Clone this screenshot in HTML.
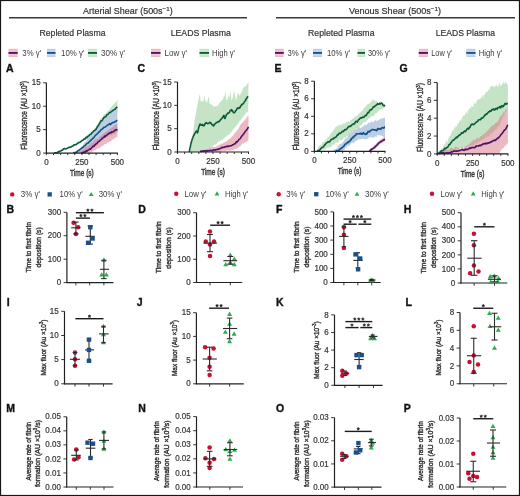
<!DOCTYPE html>
<html><head><meta charset="utf-8"><style>
html,body{margin:0;padding:0;background:#fff;}
svg{display:block;font-family:"Liberation Sans", sans-serif;will-change:transform;}
text{stroke:#333;stroke-width:0.2px;paint-order:stroke;}
text.b{stroke:#111;stroke-width:0.35px;}
text.l{stroke:none;}
text.r{stroke:#333;stroke-width:0.4px;}
</style></head><body>
<svg width="520" height="496" viewBox="0 0 520 496" font-family="Liberation Sans, sans-serif">
<rect width="520" height="496" fill="#fff"/>
<g fill="#333">
<rect x="0.5" y="0.5" width="519" height="495" fill="none" stroke="#161616" stroke-width="1.2"/>
<text x="83.00" y="14.4" font-size="8.9" textLength="89.70" lengthAdjust="spacingAndGlyphs">Arterial Shear (500s<tspan font-size="6.2" dy="-3.3">−1</tspan><tspan dy="3.3">)</tspan></text>
<text x="348.90" y="14.4" font-size="8.9" textLength="92.20" lengthAdjust="spacingAndGlyphs">Venous Shear (500s<tspan font-size="6.2" dy="-3.3">−1</tspan><tspan dy="3.3">)</tspan></text>
<line x1="9.00" y1="17.70" x2="247.00" y2="17.70" stroke="#3a3a3a" stroke-width="1.5"/>
<line x1="276.00" y1="17.70" x2="515.00" y2="17.70" stroke="#3a3a3a" stroke-width="1.5"/>
<text x="39.50" y="36.20" font-size="9" fill="#333" textLength="66.00" lengthAdjust="spacingAndGlyphs" >Repleted Plasma</text>
<text x="170.70" y="36.20" font-size="9" fill="#333" textLength="60.10" lengthAdjust="spacingAndGlyphs" >LEADS Plasma</text>
<text x="308.00" y="36.20" font-size="9" fill="#333" textLength="66.50" lengthAdjust="spacingAndGlyphs" >Repleted Plasma</text>
<text x="435.75" y="36.20" font-size="9" fill="#333" textLength="59.25" lengthAdjust="spacingAndGlyphs" >LEADS Plasma</text>
<rect x="8.50" y="48.8" width="9.20" height="8.20" fill="#efb6c3"/>
<rect x="8.50" y="50.6" width="9.20" height="1.2" fill="#fff" opacity="0.35"/>
<rect x="8.50" y="54.3" width="9.20" height="1.2" fill="#fff" opacity="0.35"/>
<line x1="8.50" y1="52.90" x2="17.70" y2="52.90" stroke="#4d1463" stroke-width="1.9"/>
<text x="22.30" y="55.60" font-size="8.2" fill="#3c3c3c" textLength="18.90" lengthAdjust="spacingAndGlyphs" class="l">3% γ'</text>
<rect x="47.00" y="48.8" width="8.50" height="8.20" fill="#bccee2"/>
<rect x="47.00" y="50.6" width="8.50" height="1.2" fill="#fff" opacity="0.35"/>
<rect x="47.00" y="54.3" width="8.50" height="1.2" fill="#fff" opacity="0.35"/>
<line x1="47.00" y1="52.90" x2="55.50" y2="52.90" stroke="#17528c" stroke-width="1.9"/>
<text x="61.00" y="55.60" font-size="8.2" fill="#3c3c3c" textLength="23.50" lengthAdjust="spacingAndGlyphs" class="l">10% γ'</text>
<rect x="88.00" y="48.8" width="9.00" height="8.20" fill="#c4e4c5"/>
<rect x="88.00" y="50.6" width="9.00" height="1.2" fill="#fff" opacity="0.35"/>
<rect x="88.00" y="54.3" width="9.00" height="1.2" fill="#fff" opacity="0.35"/>
<line x1="88.00" y1="52.90" x2="97.00" y2="52.90" stroke="#0e5c3c" stroke-width="1.9"/>
<text x="101.00" y="55.60" font-size="8.2" fill="#3c3c3c" textLength="24.00" lengthAdjust="spacingAndGlyphs" class="l">30% γ'</text>
<rect x="151.00" y="48.8" width="9.50" height="8.20" fill="#efb6c3"/>
<rect x="151.00" y="50.6" width="9.50" height="1.2" fill="#fff" opacity="0.35"/>
<rect x="151.00" y="54.3" width="9.50" height="1.2" fill="#fff" opacity="0.35"/>
<line x1="151.00" y1="52.90" x2="160.50" y2="52.90" stroke="#4d1463" stroke-width="1.9"/>
<text x="164.50" y="55.60" font-size="8.2" fill="#3c3c3c" textLength="22.50" lengthAdjust="spacingAndGlyphs" class="l">Low γ'</text>
<rect x="199.50" y="48.8" width="9.50" height="8.20" fill="#c4e4c5"/>
<rect x="199.50" y="50.6" width="9.50" height="1.2" fill="#fff" opacity="0.35"/>
<rect x="199.50" y="54.3" width="9.50" height="1.2" fill="#fff" opacity="0.35"/>
<line x1="199.50" y1="52.90" x2="209.00" y2="52.90" stroke="#0e5c3c" stroke-width="1.9"/>
<text x="212.00" y="55.60" font-size="8.2" fill="#3c3c3c" textLength="23.00" lengthAdjust="spacingAndGlyphs" class="l">High γ'</text>
<rect x="275.00" y="48.8" width="8.75" height="8.20" fill="#efb6c3"/>
<rect x="275.00" y="50.6" width="8.75" height="1.2" fill="#fff" opacity="0.35"/>
<rect x="275.00" y="54.3" width="8.75" height="1.2" fill="#fff" opacity="0.35"/>
<line x1="275.00" y1="52.90" x2="283.75" y2="52.90" stroke="#4d1463" stroke-width="1.9"/>
<text x="287.50" y="55.60" font-size="8.2" fill="#3c3c3c" textLength="18.75" lengthAdjust="spacingAndGlyphs" class="l">3% γ'</text>
<rect x="313.00" y="48.8" width="9.00" height="8.20" fill="#bccee2"/>
<rect x="313.00" y="50.6" width="9.00" height="1.2" fill="#fff" opacity="0.35"/>
<rect x="313.00" y="54.3" width="9.00" height="1.2" fill="#fff" opacity="0.35"/>
<line x1="313.00" y1="52.90" x2="322.00" y2="52.90" stroke="#17528c" stroke-width="1.9"/>
<text x="327.00" y="55.60" font-size="8.2" fill="#3c3c3c" textLength="23.00" lengthAdjust="spacingAndGlyphs" class="l">10% γ'</text>
<rect x="357.50" y="48.8" width="7.50" height="8.20" fill="#c4e4c5"/>
<rect x="357.50" y="50.6" width="7.50" height="1.2" fill="#fff" opacity="0.35"/>
<rect x="357.50" y="54.3" width="7.50" height="1.2" fill="#fff" opacity="0.35"/>
<line x1="357.50" y1="52.90" x2="365.00" y2="52.90" stroke="#0e5c3c" stroke-width="1.9"/>
<text x="368.00" y="55.60" font-size="8.2" fill="#3c3c3c" textLength="22.00" lengthAdjust="spacingAndGlyphs" class="l">30% γ'</text>
<rect x="418.75" y="48.8" width="9.25" height="8.20" fill="#efb6c3"/>
<rect x="418.75" y="50.6" width="9.25" height="1.2" fill="#fff" opacity="0.35"/>
<rect x="418.75" y="54.3" width="9.25" height="1.2" fill="#fff" opacity="0.35"/>
<line x1="418.75" y1="52.90" x2="428.00" y2="52.90" stroke="#4d1463" stroke-width="1.9"/>
<text x="431.25" y="55.60" font-size="8.2" fill="#3c3c3c" textLength="20.75" lengthAdjust="spacingAndGlyphs" class="l">Low γ'</text>
<rect x="466.25" y="48.8" width="9.25" height="8.20" fill="#bccee2"/>
<rect x="466.25" y="50.6" width="9.25" height="1.2" fill="#fff" opacity="0.35"/>
<rect x="466.25" y="54.3" width="9.25" height="1.2" fill="#fff" opacity="0.35"/>
<line x1="466.25" y1="52.90" x2="475.50" y2="52.90" stroke="#17528c" stroke-width="1.9"/>
<text x="478.75" y="55.60" font-size="8.2" fill="#3c3c3c" textLength="23.25" lengthAdjust="spacingAndGlyphs" class="l">High γ'</text>
<text x="6.00" y="72.20" font-size="10.5" fill="#111" font-weight="bold" class="b">A</text>
<text x="137.50" y="72.20" font-size="10.5" fill="#111" font-weight="bold" class="b">C</text>
<text x="274.50" y="72.20" font-size="10.5" fill="#111" font-weight="bold" class="b">E</text>
<text x="399.50" y="72.20" font-size="10.5" fill="#111" font-weight="bold" class="b">G</text>
<text x="6.50" y="212.60" font-size="10.5" fill="#111" font-weight="bold" class="b">B</text>
<text x="138.20" y="212.60" font-size="10.5" fill="#111" font-weight="bold" class="b">D</text>
<text x="276.00" y="212.60" font-size="10.5" fill="#111" font-weight="bold" class="b">F</text>
<text x="403.70" y="212.60" font-size="10.5" fill="#111" font-weight="bold" class="b">H</text>
<text x="6.80" y="305.60" font-size="10.5" fill="#111" font-weight="bold" class="b">I</text>
<text x="136.80" y="305.60" font-size="10.5" fill="#111" font-weight="bold" class="b">J</text>
<text x="276.00" y="305.60" font-size="10.5" fill="#111" font-weight="bold" class="b">K</text>
<text x="405.50" y="305.60" font-size="10.5" fill="#111" font-weight="bold" class="b">L</text>
<text x="6.20" y="412.20" font-size="10.5" fill="#111" font-weight="bold" class="b">M</text>
<text x="138.20" y="412.20" font-size="10.5" fill="#111" font-weight="bold" class="b">N</text>
<text x="276.00" y="412.20" font-size="10.5" fill="#111" font-weight="bold" class="b">O</text>
<text x="403.70" y="412.20" font-size="10.5" fill="#111" font-weight="bold" class="b">P</text>
<path d="M46.40,153.10 L47.11,153.10 L47.82,153.10 L48.53,153.10 L49.24,153.10 L49.95,153.10 L50.66,153.10 L51.37,153.10 L52.08,153.10 L52.79,153.10 L53.50,153.10 L54.21,153.03 L54.92,152.31 L55.63,153.08 L56.34,152.64 L57.05,152.08 L57.76,152.70 L58.47,151.92 L59.18,152.60 L59.89,151.65 L60.60,150.48 L61.31,149.94 L62.02,149.75 L62.73,149.32 L63.44,149.44 L64.15,147.41 L64.86,147.94 L65.57,147.40 L66.28,148.30 L66.99,147.70 L67.70,148.41 L68.41,146.73 L69.12,146.43 L69.83,147.82 L70.54,146.57 L71.25,145.77 L71.96,146.71 L72.67,146.34 L73.38,145.50 L74.09,144.84 L74.80,144.87 L75.51,143.65 L76.22,143.12 L76.93,142.44 L77.64,141.95 L78.35,141.04 L79.06,140.77 L79.77,141.70 L80.48,140.79 L81.19,140.64 L81.90,140.20 L82.61,139.18 L83.32,138.54 L84.03,137.64 L84.74,138.18 L85.45,137.36 L86.16,136.05 L86.87,135.53 L87.58,134.97 L88.29,134.20 L89.00,133.97 L89.71,132.45 L90.42,131.93 L91.13,131.47 L91.84,131.08 L92.55,130.09 L93.26,130.81 L93.97,129.12 L94.68,127.83 L95.39,127.99 L96.10,126.04 L96.81,124.90 L97.52,124.58 L98.23,122.78 L98.94,121.64 L99.65,120.03 L100.36,118.78 L101.07,118.24 L101.78,117.87 L102.49,116.64 L103.20,115.76 L103.91,114.47 L104.62,113.89 L105.33,113.63 L106.04,113.15 L106.75,111.77 L107.46,111.28 L108.17,110.82 L108.88,109.60 L109.59,109.15 L110.30,108.15 L111.01,107.25 L111.72,107.12 L112.43,104.92 L113.14,105.74 L113.85,104.02 L114.56,103.49 L115.27,101.84 L115.98,102.72 L116.69,100.71 L117.40,99.06 L117.40,112.59 L116.69,113.26 L115.98,113.23 L115.27,113.71 L114.56,114.04 L113.85,114.76 L113.14,115.88 L112.43,113.67 L111.72,115.64 L111.01,116.45 L110.30,115.28 L109.59,116.55 L108.88,116.99 L108.17,117.52 L107.46,118.29 L106.75,119.09 L106.04,119.69 L105.33,120.29 L104.62,120.82 L103.91,121.05 L103.20,121.33 L102.49,123.21 L101.78,123.58 L101.07,124.91 L100.36,125.32 L99.65,125.96 L98.94,127.08 L98.23,128.33 L97.52,130.13 L96.81,130.34 L96.10,132.00 L95.39,132.30 L94.68,132.97 L93.97,133.39 L93.26,134.17 L92.55,133.81 L91.84,135.95 L91.13,136.44 L90.42,136.84 L89.71,135.95 L89.00,136.25 L88.29,138.71 L87.58,138.22 L86.87,139.03 L86.16,138.69 L85.45,139.60 L84.74,138.79 L84.03,140.83 L83.32,140.37 L82.61,140.61 L81.90,141.70 L81.19,142.31 L80.48,142.23 L79.77,143.48 L79.06,143.51 L78.35,143.16 L77.64,143.91 L76.93,145.12 L76.22,145.40 L75.51,145.08 L74.80,146.17 L74.09,145.30 L73.38,146.66 L72.67,146.59 L71.96,147.06 L71.25,146.45 L70.54,146.72 L69.83,148.33 L69.12,147.69 L68.41,147.95 L67.70,148.32 L66.99,149.10 L66.28,148.82 L65.57,148.37 L64.86,149.20 L64.15,149.52 L63.44,148.39 L62.73,149.90 L62.02,151.07 L61.31,150.30 L60.60,152.03 L59.89,151.53 L59.18,152.05 L58.47,151.81 L57.76,151.71 L57.05,151.96 L56.34,151.81 L55.63,152.49 L54.92,151.50 L54.21,152.62 L53.50,153.10 L52.79,153.10 L52.08,153.10 L51.37,153.10 L50.66,153.10 L49.95,153.10 L49.24,153.10 L48.53,153.10 L47.82,153.10 L47.11,153.10 L46.40,153.10Z" fill="#c4e4c5"/>
<path d="M46.40,153.10 L47.11,153.10 L47.82,153.10 L48.53,153.10 L49.24,153.10 L49.95,153.10 L50.66,153.10 L51.37,153.10 L52.08,153.10 L52.79,153.10 L53.50,153.10 L54.21,153.10 L54.92,153.10 L55.63,153.10 L56.34,153.10 L57.05,153.10 L57.76,153.10 L58.47,153.10 L59.18,153.10 L59.89,153.10 L60.60,153.10 L61.31,153.10 L62.02,153.10 L62.73,153.10 L63.44,153.10 L64.15,153.10 L64.86,153.10 L65.57,153.10 L66.28,153.10 L66.99,153.10 L67.70,153.10 L68.41,153.10 L69.12,153.10 L69.83,153.10 L70.54,153.10 L71.25,153.10 L71.96,153.10 L72.67,153.10 L73.38,152.18 L74.09,151.51 L74.80,152.39 L75.51,150.96 L76.22,150.95 L76.93,151.21 L77.64,151.77 L78.35,149.91 L79.06,150.33 L79.77,149.63 L80.48,148.23 L81.19,147.28 L81.90,145.84 L82.61,146.08 L83.32,144.13 L84.03,143.03 L84.74,142.11 L85.45,141.94 L86.16,141.26 L86.87,139.50 L87.58,138.99 L88.29,138.04 L89.00,136.50 L89.71,136.35 L90.42,136.37 L91.13,134.53 L91.84,134.28 L92.55,132.09 L93.26,131.39 L93.97,130.80 L94.68,129.48 L95.39,128.06 L96.10,127.38 L96.81,125.76 L97.52,125.38 L98.23,123.84 L98.94,122.59 L99.65,121.51 L100.36,121.55 L101.07,120.12 L101.78,120.70 L102.49,119.63 L103.20,119.34 L103.91,117.21 L104.62,117.59 L105.33,116.32 L106.04,115.70 L106.75,114.92 L107.46,114.48 L108.17,113.59 L108.88,112.36 L109.59,112.67 L110.30,111.94 L111.01,111.22 L111.72,111.28 L112.43,111.28 L113.14,110.44 L113.85,109.18 L114.56,109.95 L115.27,108.96 L115.98,107.70 L116.69,107.30 L117.40,107.17 L117.40,132.65 L116.69,132.65 L115.98,132.17 L115.27,134.04 L114.56,134.28 L113.85,134.07 L113.14,133.94 L112.43,134.76 L111.72,135.30 L111.01,135.15 L110.30,135.31 L109.59,135.14 L108.88,135.62 L108.17,136.23 L107.46,137.04 L106.75,136.63 L106.04,137.21 L105.33,137.96 L104.62,137.45 L103.91,138.44 L103.20,139.63 L102.49,138.49 L101.78,139.84 L101.07,141.31 L100.36,140.01 L99.65,141.60 L98.94,141.99 L98.23,141.71 L97.52,142.37 L96.81,144.23 L96.10,143.52 L95.39,143.89 L94.68,144.04 L93.97,144.98 L93.26,145.29 L92.55,145.72 L91.84,146.17 L91.13,147.18 L90.42,147.26 L89.71,148.24 L89.00,149.30 L88.29,148.82 L87.58,148.78 L86.87,150.46 L86.16,150.28 L85.45,150.25 L84.74,151.94 L84.03,151.09 L83.32,152.25 L82.61,151.87 L81.90,152.65 L81.19,152.41 L80.48,152.59 L79.77,152.54 L79.06,151.96 L78.35,152.81 L77.64,153.10 L76.93,153.10 L76.22,152.79 L75.51,152.61 L74.80,153.10 L74.09,153.10 L73.38,153.10 L72.67,153.10 L71.96,153.10 L71.25,153.10 L70.54,153.10 L69.83,153.10 L69.12,153.10 L68.41,153.10 L67.70,153.10 L66.99,153.10 L66.28,153.10 L65.57,153.10 L64.86,153.10 L64.15,153.10 L63.44,153.10 L62.73,153.10 L62.02,153.10 L61.31,153.10 L60.60,153.10 L59.89,153.10 L59.18,153.10 L58.47,153.10 L57.76,153.10 L57.05,153.10 L56.34,153.10 L55.63,153.10 L54.92,153.10 L54.21,153.10 L53.50,153.10 L52.79,153.10 L52.08,153.10 L51.37,153.10 L50.66,153.10 L49.95,153.10 L49.24,153.10 L48.53,153.10 L47.82,153.10 L47.11,153.10 L46.40,153.10Z" fill="#bccee2"/>
<path d="M46.40,153.10 L47.11,153.10 L47.82,153.10 L48.53,153.10 L49.24,153.10 L49.95,153.10 L50.66,153.10 L51.37,153.10 L52.08,153.10 L52.79,153.10 L53.50,153.10 L54.21,153.10 L54.92,153.10 L55.63,153.10 L56.34,153.10 L57.05,153.10 L57.76,153.10 L58.47,153.10 L59.18,153.10 L59.89,153.10 L60.60,153.10 L61.31,153.10 L62.02,153.10 L62.73,153.10 L63.44,153.10 L64.15,153.10 L64.86,153.10 L65.57,153.10 L66.28,153.10 L66.99,153.10 L67.70,153.10 L68.41,153.10 L69.12,153.10 L69.83,153.10 L70.54,153.10 L71.25,153.10 L71.96,153.10 L72.67,153.10 L73.38,153.10 L74.09,153.10 L74.80,153.10 L75.51,153.10 L76.22,153.10 L76.93,153.10 L77.64,153.10 L78.35,151.98 L79.06,151.62 L79.77,150.64 L80.48,150.82 L81.19,150.63 L81.90,149.94 L82.61,150.68 L83.32,148.87 L84.03,148.65 L84.74,148.59 L85.45,147.09 L86.16,146.32 L86.87,147.27 L87.58,146.38 L88.29,145.39 L89.00,144.89 L89.71,144.62 L90.42,144.34 L91.13,142.34 L91.84,142.30 L92.55,142.80 L93.26,142.33 L93.97,140.35 L94.68,140.14 L95.39,139.20 L96.10,139.13 L96.81,139.37 L97.52,138.29 L98.23,138.88 L98.94,137.67 L99.65,136.80 L100.36,135.98 L101.07,136.02 L101.78,135.19 L102.49,134.37 L103.20,133.86 L103.91,133.20 L104.62,132.85 L105.33,132.55 L106.04,131.48 L106.75,131.28 L107.46,131.15 L108.17,130.51 L108.88,129.67 L109.59,129.21 L110.30,128.58 L111.01,128.14 L111.72,127.55 L112.43,127.19 L113.14,127.21 L113.85,125.92 L114.56,125.11 L115.27,124.89 L115.98,124.68 L116.69,123.87 L117.40,124.03 L117.40,136.67 L116.69,137.07 L115.98,137.38 L115.27,137.70 L114.56,138.56 L113.85,138.67 L113.14,138.98 L112.43,139.81 L111.72,140.36 L111.01,141.46 L110.30,141.38 L109.59,141.39 L108.88,141.91 L108.17,142.91 L107.46,141.96 L106.75,143.57 L106.04,144.14 L105.33,143.89 L104.62,143.70 L103.91,145.43 L103.20,145.33 L102.49,145.91 L101.78,146.12 L101.07,147.19 L100.36,147.13 L99.65,147.94 L98.94,148.76 L98.23,148.17 L97.52,148.58 L96.81,148.65 L96.10,149.54 L95.39,150.22 L94.68,150.27 L93.97,150.30 L93.26,151.30 L92.55,151.54 L91.84,151.92 L91.13,152.60 L90.42,152.96 L89.71,152.58 L89.00,151.74 L88.29,153.04 L87.58,153.10 L86.87,153.10 L86.16,152.44 L85.45,153.10 L84.74,152.92 L84.03,153.10 L83.32,153.10 L82.61,153.10 L81.90,153.10 L81.19,153.10 L80.48,153.10 L79.77,153.10 L79.06,153.10 L78.35,153.10 L77.64,153.10 L76.93,153.10 L76.22,153.10 L75.51,153.10 L74.80,153.10 L74.09,153.10 L73.38,153.10 L72.67,153.10 L71.96,153.10 L71.25,153.10 L70.54,153.10 L69.83,153.10 L69.12,153.10 L68.41,153.10 L67.70,153.10 L66.99,153.10 L66.28,153.10 L65.57,153.10 L64.86,153.10 L64.15,153.10 L63.44,153.10 L62.73,153.10 L62.02,153.10 L61.31,153.10 L60.60,153.10 L59.89,153.10 L59.18,153.10 L58.47,153.10 L57.76,153.10 L57.05,153.10 L56.34,153.10 L55.63,153.10 L54.92,153.10 L54.21,153.10 L53.50,153.10 L52.79,153.10 L52.08,153.10 L51.37,153.10 L50.66,153.10 L49.95,153.10 L49.24,153.10 L48.53,153.10 L47.82,153.10 L47.11,153.10 L46.40,153.10Z" fill="rgb(215,107,128)" fill-opacity="0.48"/>
<path d="M54.21,153.05 L54.92,152.72 L55.63,152.81 L56.34,152.72 L57.05,152.68 L57.76,152.26 L58.47,151.67 L59.18,151.65 L59.89,151.26 L60.60,151.04 L61.31,150.50 L62.02,150.06 L62.73,150.08 L63.44,148.88 L64.15,148.77 L64.86,148.57 L65.57,148.99 L66.28,148.80 L66.99,148.36 L67.70,148.04 L68.41,147.62 L69.12,147.52 L69.83,147.16 L70.54,147.28 L71.25,146.65 L71.96,146.26 L72.67,146.20 L73.38,145.17 L74.09,145.13 L74.80,144.59 L75.51,144.73 L76.22,144.40 L76.93,143.86 L77.64,143.37 L78.35,142.73 L79.06,142.41 L79.77,142.18 L80.48,141.90 L81.19,141.35 L81.90,140.43 L82.61,140.57 L83.32,139.76 L84.03,139.17 L84.74,139.18 L85.45,138.21 L86.16,137.32 L86.87,137.71 L87.58,136.70 L88.29,136.10 L89.00,135.77 L89.71,134.80 L90.42,134.34 L91.13,134.12 L91.84,132.86 L92.55,132.28 L93.26,131.59 L93.97,130.83 L94.68,130.52 L95.39,129.97 L96.10,129.41 L96.81,127.69 L97.52,126.85 L98.23,125.62 L98.94,124.66 L99.65,123.39 L100.36,122.09 L101.07,120.71 L101.78,120.86 L102.49,119.92 L103.20,118.66 L103.91,117.54 L104.62,117.01 L105.33,116.92 L106.04,116.31 L106.75,114.73 L107.46,114.51 L108.17,114.16 L108.88,113.11 L109.59,112.62 L110.30,112.42 L111.01,111.94 L111.72,111.43 L112.43,110.64 L113.14,110.46 L113.85,109.93 L114.56,109.29 L115.27,109.26 L115.98,107.83 L116.69,107.30 L117.40,106.79" fill="none" stroke="#0e5c3c" stroke-width="1.6" stroke-linejoin="round"/>
<path d="M73.38,153.04 L74.09,152.51 L74.80,153.10 L75.51,152.57 L76.22,152.11 L76.93,152.23 L77.64,150.87 L78.35,150.64 L79.06,150.30 L79.77,149.63 L80.48,149.00 L81.19,148.62 L81.90,147.80 L82.61,147.77 L83.32,147.10 L84.03,146.07 L84.74,145.74 L85.45,145.38 L86.16,144.25 L86.87,143.49 L87.58,143.41 L88.29,143.05 L89.00,142.09 L89.71,141.47 L90.42,140.90 L91.13,139.76 L91.84,139.70 L92.55,138.32 L93.26,138.30 L93.97,137.43 L94.68,136.29 L95.39,135.42 L96.10,134.77 L96.81,134.20 L97.52,133.55 L98.23,132.84 L98.94,132.01 L99.65,131.51 L100.36,130.67 L101.07,129.88 L101.78,129.44 L102.49,128.70 L103.20,128.22 L103.91,127.28 L104.62,127.23 L105.33,126.91 L106.04,126.36 L106.75,125.73 L107.46,124.93 L108.17,124.89 L108.88,124.38 L109.59,123.66 L110.30,124.58 L111.01,123.87 L111.72,123.17 L112.43,122.82 L113.14,122.56 L113.85,122.43 L114.56,121.82 L115.27,121.61 L115.98,121.53 L116.69,120.39 L117.40,120.66" fill="none" stroke="#17528c" stroke-width="1.6" stroke-linejoin="round"/>
<path d="M81.19,153.10 L81.90,152.97 L82.61,152.56 L83.32,152.31 L84.03,151.98 L84.74,152.44 L85.45,151.53 L86.16,150.82 L86.87,151.15 L87.58,150.56 L88.29,149.99 L89.00,149.73 L89.71,149.01 L90.42,149.30 L91.13,148.31 L91.84,147.70 L92.55,146.82 L93.26,146.08 L93.97,146.53 L94.68,144.86 L95.39,144.97 L96.10,143.76 L96.81,143.76 L97.52,142.69 L98.23,141.79 L98.94,141.56 L99.65,140.86 L100.36,140.08 L101.07,139.65 L101.78,139.11 L102.49,138.05 L103.20,137.57 L103.91,137.42 L104.62,136.03 L105.33,136.59 L106.04,135.47 L106.75,135.27 L107.46,134.62 L108.17,133.93 L108.88,133.53 L109.59,132.87 L110.30,133.12 L111.01,132.79 L111.72,131.86 L112.43,131.98 L113.14,131.67 L113.85,131.47 L114.56,130.38 L115.27,130.20 L115.98,129.67 L116.69,130.02 L117.40,129.43" fill="none" stroke="#4d1463" stroke-width="1.6" stroke-linejoin="round"/>
<line x1="46.40" y1="82.80" x2="46.40" y2="153.60" stroke="#222" stroke-width="1.2"/>
<line x1="45.80" y1="153.10" x2="117.90" y2="153.10" stroke="#222" stroke-width="1.2"/>
<line x1="46.40" y1="153.10" x2="46.40" y2="155.10" stroke="#222" stroke-width="0.9"/>
<line x1="53.50" y1="153.10" x2="53.50" y2="155.10" stroke="#222" stroke-width="0.9"/>
<line x1="60.60" y1="153.10" x2="60.60" y2="155.10" stroke="#222" stroke-width="0.9"/>
<line x1="67.70" y1="153.10" x2="67.70" y2="155.10" stroke="#222" stroke-width="0.9"/>
<line x1="74.80" y1="153.10" x2="74.80" y2="155.10" stroke="#222" stroke-width="0.9"/>
<line x1="81.90" y1="153.10" x2="81.90" y2="155.10" stroke="#222" stroke-width="0.9"/>
<line x1="89.00" y1="153.10" x2="89.00" y2="155.10" stroke="#222" stroke-width="0.9"/>
<line x1="96.10" y1="153.10" x2="96.10" y2="155.10" stroke="#222" stroke-width="0.9"/>
<line x1="103.20" y1="153.10" x2="103.20" y2="155.10" stroke="#222" stroke-width="0.9"/>
<line x1="110.30" y1="153.10" x2="110.30" y2="155.10" stroke="#222" stroke-width="0.9"/>
<line x1="117.40" y1="153.10" x2="117.40" y2="155.10" stroke="#222" stroke-width="0.9"/>
<line x1="43.10" y1="153.10" x2="46.40" y2="153.10" stroke="#222" stroke-width="0.9"/>
<text x="36.15" y="155.70" font-size="8.6" fill="#333" textLength="4.45" lengthAdjust="spacingAndGlyphs" >0</text>
<line x1="43.10" y1="129.67" x2="46.40" y2="129.67" stroke="#222" stroke-width="0.9"/>
<text x="36.15" y="132.27" font-size="8.6" fill="#333" textLength="4.45" lengthAdjust="spacingAndGlyphs" >5</text>
<line x1="43.10" y1="106.23" x2="46.40" y2="106.23" stroke="#222" stroke-width="0.9"/>
<text x="31.71" y="108.83" font-size="8.6" fill="#333" textLength="8.89" lengthAdjust="spacingAndGlyphs" >10</text>
<line x1="43.10" y1="82.80" x2="46.40" y2="82.80" stroke="#222" stroke-width="0.9"/>
<text x="31.71" y="85.40" font-size="8.6" fill="#333" textLength="8.89" lengthAdjust="spacingAndGlyphs" >15</text>
<text x="44.18" y="164.90" font-size="8.6" fill="#333" textLength="4.45" lengthAdjust="spacingAndGlyphs" >0</text>
<text x="75.23" y="164.90" font-size="8.6" fill="#333" textLength="13.34" lengthAdjust="spacingAndGlyphs" >250</text>
<text x="110.73" y="164.90" font-size="8.6" fill="#333" textLength="13.34" lengthAdjust="spacingAndGlyphs" >500</text>
<text x="70.05" y="175.70" font-size="9.2" fill="#333" textLength="23.70" lengthAdjust="spacingAndGlyphs" class="r">Time (s)</text>
<text class="r" transform="translate(27.20,115.50) rotate(-90)" x="-34.30" y="0" font-size="8.8" textLength="68.60" lengthAdjust="spacingAndGlyphs">Fluorescence (AU ×10<tspan font-size="5" dy="-3">3</tspan><tspan dy="3">)</tspan></text>
<path d="M177.50,152.00 L177.78,152.00 L178.07,152.00 L178.35,152.00 L178.64,152.00 L178.92,152.00 L179.20,152.00 L179.49,152.00 L179.77,152.00 L180.06,152.00 L180.34,152.00 L180.62,152.00 L180.91,152.00 L181.19,152.00 L181.48,152.00 L181.76,152.00 L182.04,152.00 L182.33,152.00 L182.61,152.00 L182.90,152.00 L183.18,152.00 L183.46,152.00 L183.75,152.00 L184.03,152.00 L184.32,152.00 L184.60,152.00 L184.88,152.00 L185.17,152.00 L185.45,152.00 L185.74,152.00 L186.02,152.00 L186.30,152.00 L186.59,152.00 L186.87,152.00 L187.16,152.00 L187.44,152.00 L187.72,152.00 L188.01,152.00 L188.29,152.00 L188.58,152.00 L188.86,152.00 L189.14,152.00 L189.43,152.00 L189.71,152.00 L190.00,152.00 L190.28,150.98 L190.56,148.74 L190.85,146.58 L191.13,144.40 L191.42,143.06 L191.70,140.92 L191.98,139.63 L192.27,136.53 L192.55,135.40 L192.84,133.34 L193.12,131.32 L193.40,129.98 L193.69,127.43 L193.97,125.53 L194.26,124.00 L194.54,121.37 L194.82,119.08 L195.11,118.15 L195.39,115.84 L195.68,114.45 L195.96,112.82 L196.24,111.28 L196.53,109.48 L196.81,108.44 L197.10,106.76 L197.38,105.75 L197.66,104.06 L197.95,103.12 L198.23,101.48 L198.52,99.46 L198.80,98.32 L199.08,96.98 L199.37,95.82 L199.65,94.28 L199.94,94.65 L200.22,97.17 L200.50,99.36 L200.79,100.70 L201.07,102.22 L201.36,101.44 L201.64,101.55 L201.92,101.21 L202.21,100.42 L202.49,100.88 L202.78,101.21 L203.06,101.53 L203.34,101.67 L203.63,99.75 L203.91,98.14 L204.20,97.16 L204.48,95.53 L204.76,96.18 L205.05,98.85 L205.33,100.34 L205.62,102.29 L205.90,101.53 L206.18,100.44 L206.47,101.23 L206.75,102.73 L207.04,102.25 L207.32,102.45 L207.60,100.01 L207.89,99.25 L208.17,97.36 L208.46,96.59 L208.74,96.76 L209.02,98.82 L209.31,102.19 L209.59,103.24 L209.88,103.84 L210.16,104.10 L210.44,104.35 L210.73,103.66 L211.01,104.33 L211.30,104.91 L211.58,104.30 L211.86,105.12 L212.15,104.60 L212.43,105.37 L212.72,105.45 L213.00,105.42 L213.28,106.03 L213.57,106.74 L213.85,107.11 L214.14,106.59 L214.42,106.74 L214.70,106.94 L214.99,106.25 L215.27,106.12 L215.56,105.85 L215.84,106.43 L216.12,105.96 L216.41,105.70 L216.69,105.83 L216.98,105.86 L217.26,106.88 L217.54,106.22 L217.83,105.65 L218.11,104.60 L218.40,105.10 L218.68,104.45 L218.96,103.87 L219.25,103.15 L219.53,103.05 L219.82,102.12 L220.10,102.29 L220.38,101.71 L220.67,101.65 L220.95,101.18 L221.24,101.14 L221.52,101.11 L221.80,100.08 L222.09,100.02 L222.37,99.98 L222.66,99.49 L222.94,98.99 L223.22,99.26 L223.51,97.08 L223.79,94.95 L224.08,94.92 L224.36,97.03 L224.64,96.75 L224.93,94.72 L225.21,93.57 L225.50,91.80 L225.78,92.66 L226.06,95.93 L226.35,99.23 L226.63,100.74 L226.92,100.24 L227.20,99.78 L227.48,99.37 L227.77,98.80 L228.05,97.27 L228.34,96.60 L228.62,94.65 L228.90,95.20 L229.19,96.37 L229.47,97.76 L229.76,97.47 L230.04,94.80 L230.32,91.04 L230.61,90.86 L230.89,94.62 L231.18,97.57 L231.46,100.62 L231.74,100.14 L232.03,99.34 L232.31,98.50 L232.60,97.84 L232.88,97.15 L233.16,95.37 L233.45,93.75 L233.73,91.48 L234.02,89.36 L234.30,91.36 L234.58,93.19 L234.87,95.37 L235.15,96.56 L235.44,97.87 L235.72,99.54 L236.00,100.67 L236.29,99.28 L236.57,98.22 L236.86,96.35 L237.14,96.19 L237.42,94.04 L237.71,93.01 L237.99,92.77 L238.28,92.85 L238.56,94.83 L238.84,94.75 L239.13,95.29 L239.41,95.66 L239.70,95.03 L239.98,95.42 L240.26,94.15 L240.55,93.87 L240.83,93.54 L241.12,93.20 L241.40,92.23 L241.68,91.93 L241.97,91.11 L242.25,90.65 L242.54,90.41 L242.82,89.06 L243.10,88.27 L243.39,87.39 L243.67,87.68 L243.96,87.28 L244.24,86.93 L244.52,86.90 L244.81,86.43 L245.09,86.05 L245.38,86.70 L245.66,86.82 L245.94,85.75 L246.23,85.15 L246.51,84.90 L246.80,84.52 L247.08,84.51 L247.36,83.95 L247.65,82.92 L247.93,82.84 L248.22,82.51 L248.50,82.28 L248.22,111.15 L247.79,111.14 L247.36,112.69 L246.94,112.12 L246.51,112.25 L246.09,113.12 L245.66,113.66 L245.23,114.06 L244.81,114.70 L244.38,114.81 L243.96,114.98 L243.53,116.22 L243.10,117.21 L242.68,117.03 L242.25,117.84 L241.83,118.66 L241.40,119.05 L240.97,119.35 L240.55,120.70 L240.12,120.74 L239.70,120.36 L239.27,122.01 L238.84,122.07 L238.42,122.78 L237.99,123.16 L237.57,123.94 L237.14,125.07 L236.71,125.17 L236.29,126.26 L235.86,126.34 L235.44,126.88 L235.01,126.60 L234.58,128.74 L234.16,128.37 L233.73,128.74 L233.31,128.61 L232.88,129.69 L232.45,130.72 L232.03,131.35 L231.60,131.49 L231.18,132.14 L230.75,133.29 L230.32,132.53 L229.90,133.45 L229.47,134.25 L229.05,134.43 L228.62,135.07 L228.19,134.82 L227.77,135.42 L227.34,135.25 L226.92,136.12 L226.49,136.89 L226.06,136.75 L225.64,136.65 L225.21,136.50 L224.79,137.80 L224.36,138.40 L223.93,137.70 L223.51,139.10 L223.08,139.31 L222.66,139.47 L222.23,140.00 L221.80,139.85 L221.38,139.53 L220.95,140.29 L220.53,141.10 L220.10,141.69 L219.67,140.84 L219.25,141.33 L218.82,141.45 L218.40,142.04 L217.97,142.59 L217.54,142.08 L217.12,142.48 L216.69,143.88 L216.27,144.18 L215.84,144.27 L215.41,144.67 L214.99,144.10 L214.56,144.91 L214.14,145.03 L213.71,145.26 L213.28,145.84 L212.86,145.66 L212.43,146.42 L212.01,146.64 L211.58,146.58 L211.15,146.85 L210.73,147.40 L210.30,148.56 L209.88,148.14 L209.45,148.43 L209.02,148.25 L208.60,148.29 L208.17,148.77 L207.75,149.05 L207.32,149.60 L206.89,149.97 L206.47,150.55 L206.04,150.52 L205.62,150.12 L205.19,149.78 L204.76,150.21 L204.34,150.21 L203.91,150.23 L203.49,150.75 L203.06,150.00 L202.63,151.25 L202.21,150.92 L201.78,150.41 L201.36,151.51 L200.93,151.19 L200.50,151.78 L200.08,151.90 L199.65,150.82 L199.23,150.70 L198.80,152.00 L198.37,152.00 L197.95,152.00 L197.52,152.00 L197.10,152.00 L196.67,152.00 L196.24,152.00 L195.82,152.00 L195.39,152.00 L194.97,152.00 L194.54,152.00 L194.11,152.00 L193.69,152.00 L193.26,152.00 L192.84,152.00 L192.41,152.00 L191.98,152.00 L191.56,152.00 L191.13,152.00 L190.71,152.00 L190.28,152.00 L189.85,152.00 L189.43,152.00 L189.00,152.00 L188.58,152.00 L188.15,152.00 L187.72,152.00 L187.30,152.00 L186.87,152.00 L186.45,152.00 L186.02,152.00 L185.59,152.00 L185.17,152.00 L184.74,152.00 L184.32,152.00 L183.89,152.00 L183.46,152.00 L183.04,152.00 L182.61,152.00 L182.19,152.00 L181.76,152.00 L181.33,152.00 L180.91,152.00 L180.48,152.00 L180.06,152.00 L179.63,152.00 L179.20,152.00 L178.78,152.00 L178.35,152.00 L177.93,152.00 L177.50,152.00Z" fill="#c4e4c5"/>
<path d="M177.50,152.00 L178.07,152.00 L178.64,152.00 L179.20,152.00 L179.77,152.00 L180.34,152.00 L180.91,152.00 L181.48,152.00 L182.04,152.00 L182.61,152.00 L183.18,152.00 L183.75,152.00 L184.32,152.00 L184.88,152.00 L185.45,152.00 L186.02,152.00 L186.59,152.00 L187.16,152.00 L187.72,152.00 L188.29,152.00 L188.86,152.00 L189.43,152.00 L190.00,152.00 L190.56,152.00 L191.13,152.00 L191.70,152.00 L192.27,152.00 L192.84,152.00 L193.40,152.00 L193.97,152.00 L194.54,152.00 L195.11,152.00 L195.68,152.00 L196.24,152.00 L196.81,152.00 L197.38,152.00 L197.95,152.00 L198.52,152.00 L199.08,151.61 L199.65,152.00 L200.22,151.49 L200.79,150.37 L201.36,151.69 L201.92,151.53 L202.49,151.46 L203.06,151.72 L203.63,151.27 L204.20,150.02 L204.76,150.29 L205.33,150.66 L205.90,150.28 L206.47,149.10 L207.04,149.55 L207.60,149.16 L208.17,148.63 L208.74,147.95 L209.31,147.47 L209.88,147.70 L210.44,147.93 L211.01,147.74 L211.58,146.82 L212.15,146.82 L212.72,147.47 L213.28,146.94 L213.85,146.85 L214.42,146.79 L214.99,146.88 L215.56,147.09 L216.12,146.55 L216.69,146.81 L217.26,145.29 L217.83,145.38 L218.40,145.96 L218.96,144.52 L219.53,144.53 L220.10,145.60 L220.67,143.63 L221.24,143.88 L221.80,143.06 L222.37,144.37 L222.94,143.17 L223.51,142.80 L224.08,142.47 L224.64,142.06 L225.21,141.22 L225.78,141.98 L226.35,141.44 L226.92,141.08 L227.48,140.27 L228.05,140.01 L228.62,139.28 L229.19,139.04 L229.76,138.87 L230.32,138.77 L230.89,138.06 L231.46,136.82 L232.03,136.32 L232.60,136.01 L233.16,135.52 L233.73,133.95 L234.30,134.26 L234.87,132.99 L235.44,132.07 L236.00,132.04 L236.57,130.84 L237.14,131.06 L237.71,129.31 L238.28,128.72 L238.84,128.60 L239.41,126.58 L239.98,126.35 L240.55,124.37 L241.12,124.32 L241.68,123.41 L242.25,122.62 L242.82,122.32 L243.39,121.46 L243.96,121.26 L244.52,120.11 L245.09,119.78 L245.66,118.85 L246.23,119.40 L246.80,116.75 L247.36,116.45 L247.93,116.61 L248.50,115.09 L248.50,140.47 L247.93,140.71 L247.36,141.12 L246.80,141.40 L246.23,142.27 L245.66,142.13 L245.09,142.20 L244.52,142.60 L243.96,143.43 L243.39,143.56 L242.82,143.15 L242.25,143.70 L241.68,144.31 L241.12,145.18 L240.55,145.95 L239.98,146.06 L239.41,146.68 L238.84,147.56 L238.28,147.31 L237.71,148.11 L237.14,148.03 L236.57,149.07 L236.00,149.06 L235.44,148.81 L234.87,149.09 L234.30,149.46 L233.73,149.78 L233.16,149.91 L232.60,150.25 L232.03,150.18 L231.46,150.17 L230.89,150.62 L230.32,150.64 L229.76,150.69 L229.19,151.03 L228.62,150.78 L228.05,150.44 L227.48,150.31 L226.92,150.54 L226.35,150.55 L225.78,151.23 L225.21,151.08 L224.64,150.84 L224.08,151.13 L223.51,150.48 L222.94,151.25 L222.37,150.86 L221.80,151.78 L221.24,151.35 L220.67,151.69 L220.10,152.00 L219.53,152.00 L218.96,152.00 L218.40,152.00 L217.83,152.00 L217.26,152.00 L216.69,152.00 L216.12,152.00 L215.56,152.00 L214.99,152.00 L214.42,152.00 L213.85,152.00 L213.28,152.00 L212.72,152.00 L212.15,152.00 L211.58,152.00 L211.01,152.00 L210.44,152.00 L209.88,152.00 L209.31,152.00 L208.74,152.00 L208.17,152.00 L207.60,152.00 L207.04,152.00 L206.47,152.00 L205.90,152.00 L205.33,152.00 L204.76,152.00 L204.20,152.00 L203.63,152.00 L203.06,152.00 L202.49,152.00 L201.92,152.00 L201.36,152.00 L200.79,152.00 L200.22,152.00 L199.65,152.00 L199.08,152.00 L198.52,152.00 L197.95,152.00 L197.38,152.00 L196.81,152.00 L196.24,152.00 L195.68,152.00 L195.11,152.00 L194.54,152.00 L193.97,152.00 L193.40,152.00 L192.84,152.00 L192.27,152.00 L191.70,152.00 L191.13,152.00 L190.56,152.00 L190.00,152.00 L189.43,152.00 L188.86,152.00 L188.29,152.00 L187.72,152.00 L187.16,152.00 L186.59,152.00 L186.02,152.00 L185.45,152.00 L184.88,152.00 L184.32,152.00 L183.75,152.00 L183.18,152.00 L182.61,152.00 L182.04,152.00 L181.48,152.00 L180.91,152.00 L180.34,152.00 L179.77,152.00 L179.20,152.00 L178.64,152.00 L178.07,152.00 L177.50,152.00Z" fill="rgb(215,107,128)" fill-opacity="0.48"/>
<path d="M189.00,152.00 L189.43,151.24 L189.85,148.69 L190.28,147.09 L190.71,144.69 L191.13,142.78 L191.56,141.41 L191.98,139.97 L192.41,138.50 L192.84,137.85 L193.26,136.49 L193.69,135.46 L194.11,134.78 L194.54,133.92 L194.97,133.30 L195.39,132.86 L195.82,131.80 L196.24,131.23 L196.67,131.07 L197.10,131.27 L197.52,132.89 L197.95,131.48 L198.37,129.19 L198.80,126.98 L199.23,126.26 L199.65,124.66 L200.08,124.02 L200.50,124.17 L200.93,125.13 L201.36,125.24 L201.78,125.27 L202.21,124.66 L202.63,124.58 L203.06,125.70 L203.49,125.42 L203.91,125.71 L204.34,125.63 L204.76,124.11 L205.19,123.65 L205.62,123.01 L206.04,122.56 L206.47,123.21 L206.89,123.27 L207.32,123.21 L207.75,123.73 L208.17,123.57 L208.60,123.37 L209.02,123.04 L209.45,122.49 L209.88,122.34 L210.30,122.92 L210.73,123.26 L211.15,123.03 L211.58,124.22 L212.01,124.71 L212.43,124.83 L212.86,125.04 L213.28,125.70 L213.71,125.96 L214.14,124.93 L214.56,124.32 L214.99,124.13 L215.41,123.48 L215.84,123.23 L216.27,122.61 L216.69,122.50 L217.12,122.37 L217.54,122.32 L217.97,121.81 L218.40,121.59 L218.82,121.86 L219.25,121.07 L219.67,121.08 L220.10,120.41 L220.53,119.78 L220.95,119.03 L221.38,119.03 L221.80,118.42 L222.23,117.81 L222.66,117.65 L223.08,116.39 L223.51,115.74 L223.93,115.30 L224.36,116.97 L224.79,118.45 L225.21,118.25 L225.64,116.79 L226.06,115.61 L226.49,114.41 L226.92,114.22 L227.34,113.81 L227.77,112.99 L228.19,113.41 L228.62,113.01 L229.05,112.68 L229.47,112.28 L229.90,111.13 L230.32,110.40 L230.75,110.49 L231.18,110.04 L231.60,109.70 L232.03,110.87 L232.45,110.53 L232.88,111.88 L233.31,112.26 L233.73,112.82 L234.16,112.71 L234.58,112.55 L235.01,111.99 L235.44,110.93 L235.86,110.59 L236.29,110.34 L236.71,108.94 L237.14,108.78 L237.57,107.92 L237.99,107.96 L238.42,108.35 L238.84,107.93 L239.27,108.12 L239.70,107.25 L240.12,107.56 L240.55,105.96 L240.97,105.88 L241.40,105.10 L241.83,104.34 L242.25,104.54 L242.68,104.15 L243.10,103.66 L243.53,103.21 L243.96,102.60 L244.38,101.69 L244.81,101.31 L245.23,100.67 L245.66,100.06 L246.09,99.09 L246.51,98.53 L246.94,98.04 L247.36,97.14 L247.79,96.70 L248.22,96.30" fill="none" stroke="#0e5c3c" stroke-width="1.6" stroke-linejoin="round"/>
<path d="M200.22,152.00 L200.79,151.23 L201.36,151.13 L201.92,151.42 L202.49,150.91 L203.06,151.04 L203.63,151.44 L204.20,150.66 L204.76,150.91 L205.33,150.74 L205.90,150.86 L206.47,150.90 L207.04,151.18 L207.60,150.55 L208.17,150.73 L208.74,150.76 L209.31,150.57 L209.88,150.59 L210.44,150.39 L211.01,150.56 L211.58,150.41 L212.15,150.83 L212.72,150.36 L213.28,150.04 L213.85,149.81 L214.42,150.14 L214.99,150.01 L215.56,149.54 L216.12,149.92 L216.69,149.60 L217.26,149.31 L217.83,149.53 L218.40,149.01 L218.96,149.22 L219.53,148.76 L220.10,148.58 L220.67,148.29 L221.24,147.81 L221.80,147.27 L222.37,147.74 L222.94,147.55 L223.51,147.15 L224.08,147.37 L224.64,146.86 L225.21,146.70 L225.78,146.76 L226.35,146.42 L226.92,146.77 L227.48,146.08 L228.05,146.54 L228.62,146.27 L229.19,146.16 L229.76,146.05 L230.32,145.68 L230.89,145.78 L231.46,145.76 L232.03,145.23 L232.60,144.68 L233.16,144.74 L233.73,144.35 L234.30,143.84 L234.87,143.75 L235.44,143.63 L236.00,142.20 L236.57,141.71 L237.14,142.14 L237.71,141.13 L238.28,140.43 L238.84,139.71 L239.41,139.18 L239.98,138.81 L240.55,138.16 L241.12,137.06 L241.68,136.02 L242.25,135.68 L242.82,134.89 L243.39,133.93 L243.96,133.65 L244.52,132.54 L245.09,131.86 L245.66,130.95 L246.23,130.51 L246.80,129.85 L247.36,129.03 L247.93,127.93 L248.50,126.96" fill="none" stroke="#4d1463" stroke-width="1.6" stroke-linejoin="round"/>
<line x1="177.50" y1="82.00" x2="177.50" y2="152.50" stroke="#222" stroke-width="1.2"/>
<line x1="176.90" y1="152.00" x2="249.00" y2="152.00" stroke="#222" stroke-width="1.2"/>
<line x1="177.50" y1="152.00" x2="177.50" y2="154.00" stroke="#222" stroke-width="0.9"/>
<line x1="184.60" y1="152.00" x2="184.60" y2="154.00" stroke="#222" stroke-width="0.9"/>
<line x1="191.70" y1="152.00" x2="191.70" y2="154.00" stroke="#222" stroke-width="0.9"/>
<line x1="198.80" y1="152.00" x2="198.80" y2="154.00" stroke="#222" stroke-width="0.9"/>
<line x1="205.90" y1="152.00" x2="205.90" y2="154.00" stroke="#222" stroke-width="0.9"/>
<line x1="213.00" y1="152.00" x2="213.00" y2="154.00" stroke="#222" stroke-width="0.9"/>
<line x1="220.10" y1="152.00" x2="220.10" y2="154.00" stroke="#222" stroke-width="0.9"/>
<line x1="227.20" y1="152.00" x2="227.20" y2="154.00" stroke="#222" stroke-width="0.9"/>
<line x1="234.30" y1="152.00" x2="234.30" y2="154.00" stroke="#222" stroke-width="0.9"/>
<line x1="241.40" y1="152.00" x2="241.40" y2="154.00" stroke="#222" stroke-width="0.9"/>
<line x1="248.50" y1="152.00" x2="248.50" y2="154.00" stroke="#222" stroke-width="0.9"/>
<line x1="174.20" y1="152.00" x2="177.50" y2="152.00" stroke="#222" stroke-width="0.9"/>
<text x="167.25" y="154.60" font-size="8.6" fill="#333" textLength="4.45" lengthAdjust="spacingAndGlyphs" >0</text>
<line x1="174.20" y1="128.67" x2="177.50" y2="128.67" stroke="#222" stroke-width="0.9"/>
<text x="167.25" y="131.27" font-size="8.6" fill="#333" textLength="4.45" lengthAdjust="spacingAndGlyphs" >5</text>
<line x1="174.20" y1="105.33" x2="177.50" y2="105.33" stroke="#222" stroke-width="0.9"/>
<text x="162.81" y="107.93" font-size="8.6" fill="#333" textLength="8.89" lengthAdjust="spacingAndGlyphs" >10</text>
<line x1="174.20" y1="82.00" x2="177.50" y2="82.00" stroke="#222" stroke-width="0.9"/>
<text x="162.81" y="84.60" font-size="8.6" fill="#333" textLength="8.89" lengthAdjust="spacingAndGlyphs" >15</text>
<text x="175.28" y="163.80" font-size="8.6" fill="#333" textLength="4.45" lengthAdjust="spacingAndGlyphs" >0</text>
<text x="206.33" y="163.80" font-size="8.6" fill="#333" textLength="13.34" lengthAdjust="spacingAndGlyphs" >250</text>
<text x="241.83" y="163.80" font-size="8.6" fill="#333" textLength="13.34" lengthAdjust="spacingAndGlyphs" >500</text>
<text x="201.15" y="174.60" font-size="9.2" fill="#333" textLength="23.70" lengthAdjust="spacingAndGlyphs" class="r">Time (s)</text>
<text class="r" transform="translate(158.60,115.70) rotate(-90)" x="-34.65" y="0" font-size="8.8" textLength="69.30" lengthAdjust="spacingAndGlyphs">Fluorescence (AU ×10<tspan font-size="5" dy="-3">3</tspan><tspan dy="3">)</tspan></text>
<path d="M314.40,151.40 L315.11,151.40 L315.81,151.40 L316.52,151.40 L317.22,149.98 L317.93,147.24 L318.64,146.01 L319.34,146.02 L320.05,144.53 L320.75,145.20 L321.46,144.68 L322.17,142.56 L322.87,142.57 L323.58,141.67 L324.28,142.00 L324.99,140.54 L325.70,140.22 L326.40,139.26 L327.11,138.60 L327.81,136.99 L328.52,136.98 L329.23,136.16 L329.93,135.45 L330.64,133.07 L331.34,133.09 L332.05,132.26 L332.76,131.22 L333.46,129.98 L334.17,129.43 L334.87,127.92 L335.58,127.12 L336.29,126.52 L336.99,126.45 L337.70,125.65 L338.40,125.64 L339.11,125.06 L339.82,124.71 L340.52,124.38 L341.23,125.44 L341.93,124.29 L342.64,124.15 L343.35,123.05 L344.05,124.01 L344.76,123.28 L345.46,122.78 L346.17,122.53 L346.88,121.55 L347.58,122.03 L348.29,121.01 L348.99,122.01 L349.70,121.92 L350.41,120.05 L351.11,119.90 L351.82,119.31 L352.52,118.94 L353.23,118.18 L353.94,118.52 L354.64,116.82 L355.35,117.03 L356.05,115.67 L356.76,115.58 L357.47,116.11 L358.17,115.18 L358.88,113.26 L359.58,113.22 L360.29,112.65 L361.00,111.60 L361.70,111.25 L362.41,110.60 L363.11,109.55 L363.82,108.82 L364.53,107.39 L365.23,107.46 L365.94,105.79 L366.64,105.12 L367.35,104.45 L368.06,104.08 L368.76,103.86 L369.47,103.15 L370.17,102.58 L370.88,102.18 L371.59,101.12 L372.29,100.71 L373.00,98.98 L373.70,99.79 L374.41,100.53 L375.12,101.53 L375.82,100.78 L376.53,101.20 L377.23,101.77 L377.94,102.03 L378.65,102.88 L379.35,101.65 L380.06,102.24 L380.76,101.11 L381.47,102.74 L382.18,103.06 L382.88,102.48 L383.59,103.43 L384.29,103.67 L385.00,104.21 L385.00,107.37 L384.29,108.02 L383.59,108.33 L382.88,108.33 L382.18,109.49 L381.47,108.72 L380.76,110.00 L380.06,109.36 L379.35,110.29 L378.65,110.85 L377.94,111.58 L377.23,112.14 L376.53,113.48 L375.82,113.74 L375.12,113.37 L374.41,114.93 L373.70,115.94 L373.00,115.90 L372.29,116.03 L371.59,116.14 L370.88,116.39 L370.17,118.33 L369.47,118.18 L368.76,118.01 L368.06,119.48 L367.35,119.94 L366.64,120.92 L365.94,121.61 L365.23,122.27 L364.53,122.34 L363.82,122.37 L363.11,122.42 L362.41,123.52 L361.70,124.63 L361.00,125.74 L360.29,125.21 L359.58,126.12 L358.88,127.70 L358.17,127.75 L357.47,128.70 L356.76,128.01 L356.05,129.41 L355.35,130.25 L354.64,131.49 L353.94,130.76 L353.23,131.55 L352.52,131.49 L351.82,134.07 L351.11,133.08 L350.41,133.65 L349.70,135.06 L348.99,134.89 L348.29,134.94 L347.58,136.21 L346.88,136.12 L346.17,137.40 L345.46,138.08 L344.76,137.08 L344.05,138.67 L343.35,138.08 L342.64,140.01 L341.93,139.74 L341.23,140.28 L340.52,140.50 L339.82,139.82 L339.11,140.62 L338.40,142.04 L337.70,143.07 L336.99,142.86 L336.29,142.49 L335.58,142.14 L334.87,144.08 L334.17,144.75 L333.46,145.10 L332.76,144.37 L332.05,145.07 L331.34,146.82 L330.64,146.96 L329.93,147.38 L329.23,146.85 L328.52,148.21 L327.81,147.27 L327.11,147.74 L326.40,148.31 L325.70,149.64 L324.99,148.69 L324.28,149.96 L323.58,149.78 L322.87,150.28 L322.17,149.49 L321.46,150.16 L320.75,150.20 L320.05,151.40 L319.34,151.40 L318.64,151.40 L317.93,151.40 L317.22,151.40 L316.52,151.40 L315.81,151.40 L315.11,151.40 L314.40,151.40Z" fill="#c4e4c5"/>
<path d="M314.40,151.40 L315.11,151.40 L315.81,151.40 L316.52,151.40 L317.22,151.40 L317.93,151.40 L318.64,151.40 L319.34,151.40 L320.05,151.40 L320.75,151.40 L321.46,151.40 L322.17,151.40 L322.87,151.40 L323.58,151.40 L324.28,151.40 L324.99,151.40 L325.70,151.40 L326.40,151.40 L327.11,151.40 L327.81,151.40 L328.52,151.40 L329.23,151.40 L329.93,151.40 L330.64,151.40 L331.34,151.40 L332.05,151.40 L332.76,151.28 L333.46,150.04 L334.17,149.52 L334.87,149.26 L335.58,148.99 L336.29,148.44 L336.99,147.68 L337.70,146.86 L338.40,146.12 L339.11,143.89 L339.82,144.48 L340.52,143.77 L341.23,143.98 L341.93,143.26 L342.64,142.30 L343.35,141.20 L344.05,141.02 L344.76,138.80 L345.46,139.12 L346.17,137.43 L346.88,138.40 L347.58,136.35 L348.29,135.37 L348.99,134.59 L349.70,133.55 L350.41,132.89 L351.11,132.12 L351.82,132.38 L352.52,131.32 L353.23,131.83 L353.94,129.93 L354.64,129.75 L355.35,129.67 L356.05,129.66 L356.76,129.19 L357.47,127.57 L358.17,127.28 L358.88,127.92 L359.58,126.92 L360.29,128.15 L361.00,128.05 L361.70,127.00 L362.41,126.92 L363.11,126.47 L363.82,125.79 L364.53,124.02 L365.23,125.67 L365.94,125.01 L366.64,124.57 L367.35,124.26 L368.06,123.27 L368.76,122.35 L369.47,123.46 L370.17,122.24 L370.88,121.99 L371.59,121.31 L372.29,122.13 L373.00,122.08 L373.70,122.20 L374.41,120.53 L375.12,120.54 L375.82,120.43 L376.53,121.54 L377.23,120.32 L377.94,120.33 L378.65,120.44 L379.35,119.94 L380.06,118.85 L380.76,118.69 L381.47,118.74 L382.18,118.22 L382.88,118.57 L383.59,117.97 L384.29,117.75 L385.00,117.24 L385.00,137.54 L384.29,137.30 L383.59,136.77 L382.88,136.87 L382.18,136.08 L381.47,135.70 L380.76,135.15 L380.06,135.23 L379.35,135.31 L378.65,135.86 L377.94,134.83 L377.23,135.00 L376.53,137.47 L375.82,136.23 L375.12,136.79 L374.41,136.90 L373.70,137.60 L373.00,137.69 L372.29,137.76 L371.59,137.40 L370.88,136.95 L370.17,137.25 L369.47,137.32 L368.76,137.59 L368.06,139.31 L367.35,138.51 L366.64,138.95 L365.94,139.69 L365.23,139.04 L364.53,138.94 L363.82,139.06 L363.11,138.75 L362.41,139.35 L361.70,138.45 L361.00,138.64 L360.29,139.94 L359.58,139.44 L358.88,139.11 L358.17,139.45 L357.47,140.16 L356.76,140.62 L356.05,141.43 L355.35,141.10 L354.64,141.69 L353.94,142.76 L353.23,143.39 L352.52,142.84 L351.82,143.02 L351.11,143.19 L350.41,144.21 L349.70,144.76 L348.99,146.42 L348.29,145.41 L347.58,145.55 L346.88,147.15 L346.17,147.71 L345.46,147.42 L344.76,149.54 L344.05,149.88 L343.35,150.50 L342.64,151.07 L341.93,151.40 L341.23,151.40 L340.52,151.40 L339.82,151.40 L339.11,151.40 L338.40,151.40 L337.70,151.40 L336.99,151.40 L336.29,151.40 L335.58,151.40 L334.87,151.40 L334.17,151.40 L333.46,151.40 L332.76,151.40 L332.05,151.40 L331.34,151.40 L330.64,151.40 L329.93,151.40 L329.23,151.40 L328.52,151.40 L327.81,151.40 L327.11,151.40 L326.40,151.40 L325.70,151.40 L324.99,151.40 L324.28,151.40 L323.58,151.40 L322.87,151.40 L322.17,151.40 L321.46,151.40 L320.75,151.40 L320.05,151.40 L319.34,151.40 L318.64,151.40 L317.93,151.40 L317.22,151.40 L316.52,151.40 L315.81,151.40 L315.11,151.40 L314.40,151.40Z" fill="#bccee2"/>
<path d="M314.40,151.40 L315.11,151.40 L315.81,151.40 L316.52,151.40 L317.22,151.40 L317.93,151.40 L318.64,151.40 L319.34,151.40 L320.05,151.40 L320.75,151.40 L321.46,151.40 L322.17,151.40 L322.87,151.40 L323.58,151.40 L324.28,151.40 L324.99,151.40 L325.70,151.40 L326.40,151.40 L327.11,151.40 L327.81,151.40 L328.52,151.40 L329.23,151.40 L329.93,151.40 L330.64,151.40 L331.34,151.40 L332.05,151.40 L332.76,151.40 L333.46,151.40 L334.17,151.40 L334.87,151.40 L335.58,151.40 L336.29,151.40 L336.99,151.40 L337.70,151.40 L338.40,151.40 L339.11,151.40 L339.82,151.40 L340.52,151.40 L341.23,151.40 L341.93,151.40 L342.64,151.40 L343.35,151.40 L344.05,151.40 L344.76,151.40 L345.46,151.40 L346.17,151.40 L346.88,151.40 L347.58,151.40 L348.29,151.40 L348.99,151.40 L349.70,151.40 L350.41,151.40 L351.11,151.40 L351.82,151.40 L352.52,151.40 L353.23,151.40 L353.94,151.40 L354.64,151.40 L355.35,151.40 L356.05,151.40 L356.76,151.40 L357.47,151.40 L358.17,151.40 L358.88,151.40 L359.58,151.40 L360.29,151.40 L361.00,151.40 L361.70,151.40 L362.41,151.40 L363.11,151.40 L363.82,151.40 L364.53,151.40 L365.23,151.40 L365.94,151.40 L366.64,151.40 L367.35,151.40 L368.06,150.80 L368.76,150.20 L369.47,149.59 L370.17,148.99 L370.88,148.39 L371.59,147.79 L372.29,147.18 L373.00,146.58 L373.70,145.98 L374.41,145.38 L375.12,144.69 L375.82,143.98 L376.53,143.27 L377.23,142.56 L377.94,141.85 L378.65,141.14 L379.35,140.43 L380.06,139.96 L380.76,139.49 L381.47,139.02 L382.18,138.54 L382.88,138.07 L383.59,137.60 L384.29,137.13 L385.00,136.66 L385.00,140.87 L384.29,141.36 L383.59,141.86 L382.88,142.35 L382.18,142.84 L381.47,143.34 L380.76,143.83 L380.06,144.33 L379.35,144.82 L378.65,145.46 L377.94,146.11 L377.23,146.75 L376.53,147.40 L375.82,148.04 L375.12,148.69 L374.41,149.28 L373.70,149.63 L373.00,149.98 L372.29,150.34 L371.59,150.69 L370.88,151.05 L370.17,151.40 L369.47,151.40 L368.76,151.40 L368.06,151.40 L367.35,151.40 L366.64,151.40 L365.94,151.40 L365.23,151.40 L364.53,151.40 L363.82,151.40 L363.11,151.40 L362.41,151.40 L361.70,151.40 L361.00,151.40 L360.29,151.40 L359.58,151.40 L358.88,151.40 L358.17,151.40 L357.47,151.40 L356.76,151.40 L356.05,151.40 L355.35,151.40 L354.64,151.40 L353.94,151.40 L353.23,151.40 L352.52,151.40 L351.82,151.40 L351.11,151.40 L350.41,151.40 L349.70,151.40 L348.99,151.40 L348.29,151.40 L347.58,151.40 L346.88,151.40 L346.17,151.40 L345.46,151.40 L344.76,151.40 L344.05,151.40 L343.35,151.40 L342.64,151.40 L341.93,151.40 L341.23,151.40 L340.52,151.40 L339.82,151.40 L339.11,151.40 L338.40,151.40 L337.70,151.40 L336.99,151.40 L336.29,151.40 L335.58,151.40 L334.87,151.40 L334.17,151.40 L333.46,151.40 L332.76,151.40 L332.05,151.40 L331.34,151.40 L330.64,151.40 L329.93,151.40 L329.23,151.40 L328.52,151.40 L327.81,151.40 L327.11,151.40 L326.40,151.40 L325.70,151.40 L324.99,151.40 L324.28,151.40 L323.58,151.40 L322.87,151.40 L322.17,151.40 L321.46,151.40 L320.75,151.40 L320.05,151.40 L319.34,151.40 L318.64,151.40 L317.93,151.40 L317.22,151.40 L316.52,151.40 L315.81,151.40 L315.11,151.40 L314.40,151.40Z" fill="rgb(215,107,128)" fill-opacity="0.48"/>
<path d="M317.22,151.40 L317.79,150.93 L318.35,150.20 L318.92,150.20 L319.48,150.54 L320.05,149.53 L320.61,148.74 L321.18,148.32 L321.74,147.50 L322.31,147.51 L322.87,147.07 L323.44,146.72 L324.00,145.93 L324.57,144.85 L325.13,144.90 L325.70,143.68 L326.26,143.07 L326.83,142.86 L327.39,142.62 L327.96,141.75 L328.52,141.94 L329.08,141.78 L329.65,141.89 L330.21,141.04 L330.78,140.00 L331.34,139.61 L331.91,139.23 L332.47,139.09 L333.04,138.63 L333.60,138.87 L334.17,137.67 L334.73,137.49 L335.30,137.47 L335.86,137.08 L336.43,136.67 L336.99,135.50 L337.56,134.59 L338.12,134.96 L338.69,133.91 L339.25,133.17 L339.82,133.21 L340.38,133.39 L340.95,132.92 L341.51,132.41 L342.08,131.49 L342.64,131.19 L343.20,131.61 L343.77,130.65 L344.33,130.77 L344.90,129.59 L345.46,129.75 L346.03,129.43 L346.59,129.16 L347.16,128.72 L347.72,127.51 L348.29,126.93 L348.85,126.55 L349.42,126.21 L349.98,126.64 L350.55,126.17 L351.11,125.73 L351.68,125.46 L352.24,124.45 L352.81,124.27 L353.37,123.94 L353.94,123.74 L354.50,123.91 L355.07,122.64 L355.63,121.49 L356.20,121.23 L356.76,121.42 L357.32,122.08 L357.89,120.96 L358.45,119.75 L359.02,119.43 L359.58,118.85 L360.15,118.16 L360.71,117.82 L361.28,118.19 L361.84,117.48 L362.41,116.98 L362.97,117.52 L363.54,117.06 L364.10,117.04 L364.67,116.23 L365.23,115.29 L365.80,115.31 L366.36,115.53 L366.93,113.92 L367.49,113.28 L368.06,112.25 L368.62,112.72 L369.19,111.67 L369.75,110.46 L370.32,109.65 L370.88,109.98 L371.44,109.64 L372.01,109.22 L372.57,108.15 L373.14,107.25 L373.70,106.87 L374.27,106.96 L374.83,105.95 L375.40,105.94 L375.96,105.32 L376.53,105.03 L377.09,104.15 L377.66,103.79 L378.22,104.29 L378.79,104.15 L379.35,103.40 L379.92,103.98 L380.48,103.79 L381.05,103.31 L381.61,102.98 L382.18,103.48 L382.74,104.80 L383.31,105.65 L383.87,105.61 L384.44,105.74 L385.00,105.06" fill="none" stroke="#0e5c3c" stroke-width="1.6" stroke-linejoin="round"/>
<path d="M335.86,151.40 L336.43,150.83 L336.99,150.47 L337.56,151.40 L338.12,151.16 L338.69,150.28 L339.25,149.98 L339.82,149.44 L340.38,148.63 L340.95,148.69 L341.51,147.83 L342.08,147.77 L342.64,147.44 L343.20,146.45 L343.77,146.29 L344.33,145.52 L344.90,144.19 L345.46,144.12 L346.03,143.92 L346.59,143.12 L347.16,143.05 L347.72,142.01 L348.29,142.49 L348.85,141.49 L349.42,141.36 L349.98,141.20 L350.55,139.53 L351.11,139.84 L351.68,138.39 L352.24,138.00 L352.81,137.15 L353.37,137.77 L353.94,136.63 L354.50,135.64 L355.07,135.69 L355.63,135.45 L356.20,133.69 L356.76,133.73 L357.32,133.78 L357.89,133.98 L358.45,133.73 L359.02,133.73 L359.58,133.86 L360.15,133.17 L360.71,133.96 L361.28,133.99 L361.84,133.40 L362.41,134.23 L362.97,133.49 L363.54,132.60 L364.10,133.75 L364.67,134.10 L365.23,134.15 L365.80,134.51 L366.36,133.39 L366.93,133.81 L367.49,132.56 L368.06,131.24 L368.62,132.01 L369.19,131.51 L369.75,131.92 L370.32,130.51 L370.88,130.42 L371.44,130.02 L372.01,129.80 L372.57,129.43 L373.14,129.72 L373.70,129.67 L374.27,129.94 L374.83,129.73 L375.40,130.30 L375.96,129.94 L376.53,130.66 L377.09,130.15 L377.66,128.54 L378.22,128.61 L378.79,129.25 L379.35,128.68 L379.92,128.95 L380.48,129.35 L381.05,128.99 L381.61,128.00 L382.18,127.63 L382.74,127.64 L383.31,128.02 L383.87,128.23 L384.44,126.99 L385.00,126.90" fill="none" stroke="#17528c" stroke-width="1.6" stroke-linejoin="round"/>
<path d="M369.19,151.27 L369.75,151.08 L370.32,150.56 L370.88,149.49 L371.44,149.73 L372.01,149.15 L372.57,148.70 L373.14,148.38 L373.70,148.00 L374.27,147.80 L374.83,147.27 L375.40,146.23 L375.96,146.10 L376.53,145.26 L377.09,145.15 L377.66,144.35 L378.22,143.69 L378.79,143.00 L379.35,142.82 L379.92,142.16 L380.48,141.84 L381.05,141.68 L381.61,141.10 L382.18,140.98 L382.74,140.61 L383.31,140.11 L383.87,140.22 L384.44,139.41 L385.00,139.20" fill="none" stroke="#4d1463" stroke-width="1.6" stroke-linejoin="round"/>
<line x1="314.40" y1="81.20" x2="314.40" y2="151.90" stroke="#222" stroke-width="1.2"/>
<line x1="313.80" y1="151.40" x2="385.50" y2="151.40" stroke="#222" stroke-width="1.2"/>
<line x1="314.40" y1="151.40" x2="314.40" y2="153.40" stroke="#222" stroke-width="0.9"/>
<line x1="321.46" y1="151.40" x2="321.46" y2="153.40" stroke="#222" stroke-width="0.9"/>
<line x1="328.52" y1="151.40" x2="328.52" y2="153.40" stroke="#222" stroke-width="0.9"/>
<line x1="335.58" y1="151.40" x2="335.58" y2="153.40" stroke="#222" stroke-width="0.9"/>
<line x1="342.64" y1="151.40" x2="342.64" y2="153.40" stroke="#222" stroke-width="0.9"/>
<line x1="349.70" y1="151.40" x2="349.70" y2="153.40" stroke="#222" stroke-width="0.9"/>
<line x1="356.76" y1="151.40" x2="356.76" y2="153.40" stroke="#222" stroke-width="0.9"/>
<line x1="363.82" y1="151.40" x2="363.82" y2="153.40" stroke="#222" stroke-width="0.9"/>
<line x1="370.88" y1="151.40" x2="370.88" y2="153.40" stroke="#222" stroke-width="0.9"/>
<line x1="377.94" y1="151.40" x2="377.94" y2="153.40" stroke="#222" stroke-width="0.9"/>
<line x1="385.00" y1="151.40" x2="385.00" y2="153.40" stroke="#222" stroke-width="0.9"/>
<line x1="311.10" y1="151.40" x2="314.40" y2="151.40" stroke="#222" stroke-width="0.9"/>
<text x="304.15" y="154.00" font-size="8.6" fill="#333" textLength="4.45" lengthAdjust="spacingAndGlyphs" >0</text>
<line x1="311.10" y1="133.85" x2="314.40" y2="133.85" stroke="#222" stroke-width="0.9"/>
<text x="304.15" y="136.45" font-size="8.6" fill="#333" textLength="4.45" lengthAdjust="spacingAndGlyphs" >2</text>
<line x1="311.10" y1="116.30" x2="314.40" y2="116.30" stroke="#222" stroke-width="0.9"/>
<text x="304.15" y="118.90" font-size="8.6" fill="#333" textLength="4.45" lengthAdjust="spacingAndGlyphs" >4</text>
<line x1="311.10" y1="98.75" x2="314.40" y2="98.75" stroke="#222" stroke-width="0.9"/>
<text x="304.15" y="101.35" font-size="8.6" fill="#333" textLength="4.45" lengthAdjust="spacingAndGlyphs" >6</text>
<line x1="311.10" y1="81.20" x2="314.40" y2="81.20" stroke="#222" stroke-width="0.9"/>
<text x="304.15" y="83.80" font-size="8.6" fill="#333" textLength="4.45" lengthAdjust="spacingAndGlyphs" >8</text>
<text x="312.18" y="163.20" font-size="8.6" fill="#333" textLength="4.45" lengthAdjust="spacingAndGlyphs" >0</text>
<text x="343.03" y="163.20" font-size="8.6" fill="#333" textLength="13.34" lengthAdjust="spacingAndGlyphs" >250</text>
<text x="378.33" y="163.20" font-size="8.6" fill="#333" textLength="13.34" lengthAdjust="spacingAndGlyphs" >500</text>
<text x="337.85" y="174.00" font-size="9.2" fill="#333" textLength="23.70" lengthAdjust="spacingAndGlyphs" class="r">Time (s)</text>
<text class="r" transform="translate(299.30,115.90) rotate(-90)" x="-34.40" y="0" font-size="8.8" textLength="68.80" lengthAdjust="spacingAndGlyphs">Fluorescence (AU ×10<tspan font-size="5" dy="-3">3</tspan><tspan dy="3">)</tspan></text>
<path d="M437.20,153.90 L437.77,152.12 L438.33,152.95 L438.90,152.10 L439.46,150.37 L440.03,150.98 L440.59,148.72 L441.16,150.88 L441.72,147.80 L442.29,148.01 L442.86,149.25 L443.42,145.42 L443.99,145.29 L444.55,144.59 L445.12,144.75 L445.68,143.08 L446.25,139.95 L446.82,141.44 L447.38,143.25 L447.95,139.44 L448.51,138.79 L449.08,136.63 L449.64,135.89 L450.21,135.48 L450.77,134.56 L451.34,131.69 L451.91,133.51 L452.47,129.02 L453.04,130.85 L453.60,130.59 L454.17,127.74 L454.73,127.13 L455.30,128.00 L455.86,125.24 L456.43,127.16 L457.00,125.44 L457.56,122.54 L458.13,123.31 L458.69,123.73 L459.26,121.08 L459.82,119.94 L460.39,120.24 L460.96,121.44 L461.52,119.17 L462.09,117.65 L462.65,116.57 L463.22,114.70 L463.78,116.24 L464.35,115.77 L464.91,114.58 L465.48,112.53 L466.05,114.12 L466.61,111.00 L467.18,114.63 L467.74,110.12 L468.31,110.98 L468.87,109.05 L469.44,108.09 L470.00,109.53 L470.57,107.79 L471.14,106.87 L471.70,105.93 L472.27,106.99 L472.83,106.49 L473.40,106.92 L473.96,101.58 L474.53,103.94 L475.10,103.40 L475.66,104.20 L476.23,101.04 L476.79,102.05 L477.36,99.38 L477.92,99.45 L478.49,99.78 L479.05,98.46 L479.62,99.87 L480.19,98.47 L480.75,98.18 L481.32,98.36 L481.88,96.43 L482.45,96.04 L483.01,93.83 L483.58,98.45 L484.14,95.06 L484.71,94.81 L485.28,93.81 L485.84,92.34 L486.41,91.85 L486.97,91.73 L487.54,91.75 L488.10,90.20 L488.67,89.83 L489.24,90.83 L489.80,87.50 L490.37,87.06 L490.93,86.60 L491.50,85.39 L492.06,85.69 L492.63,85.84 L493.19,87.11 L493.76,86.60 L494.33,87.57 L494.89,86.40 L495.46,86.15 L496.02,84.72 L496.59,84.96 L497.15,86.89 L497.72,86.23 L498.28,86.46 L498.85,84.84 L499.42,82.76 L499.98,83.83 L500.55,86.66 L501.11,85.37 L501.68,85.12 L502.24,83.03 L502.81,83.47 L503.38,83.04 L503.94,81.35 L504.51,84.03 L505.07,83.95 L505.64,80.83 L506.20,82.46 L506.77,83.55 L507.33,84.78 L507.90,84.13 L507.90,108.93 L507.33,109.58 L506.77,110.26 L506.20,112.04 L505.64,111.86 L505.07,113.80 L504.51,114.89 L503.94,115.60 L503.38,116.30 L502.81,117.39 L502.24,119.43 L501.68,119.95 L501.11,121.25 L500.55,122.60 L499.98,123.61 L499.42,126.08 L498.85,126.22 L498.28,125.92 L497.72,126.34 L497.15,128.42 L496.59,128.96 L496.02,129.76 L495.46,129.40 L494.89,130.86 L494.33,131.08 L493.76,130.93 L493.19,132.93 L492.63,133.17 L492.06,133.51 L491.50,133.53 L490.93,133.23 L490.37,134.43 L489.80,135.03 L489.24,136.94 L488.67,135.44 L488.10,137.49 L487.54,136.11 L486.97,136.77 L486.41,137.96 L485.84,137.34 L485.28,137.68 L484.71,138.33 L484.14,139.33 L483.58,139.21 L483.01,139.87 L482.45,139.48 L481.88,141.00 L481.32,140.21 L480.75,140.41 L480.19,140.50 L479.62,142.24 L479.05,140.84 L478.49,141.71 L477.92,142.37 L477.36,143.04 L476.79,143.30 L476.23,143.84 L475.66,142.83 L475.10,144.54 L474.53,142.78 L473.96,144.39 L473.40,144.54 L472.83,145.60 L472.27,145.21 L471.70,144.93 L471.14,145.73 L470.57,146.04 L470.00,145.50 L469.44,146.50 L468.87,146.84 L468.31,145.65 L467.74,147.09 L467.18,146.85 L466.61,146.73 L466.05,147.35 L465.48,147.14 L464.91,147.78 L464.35,145.72 L463.78,147.10 L463.22,146.44 L462.65,149.12 L462.09,147.07 L461.52,148.81 L460.96,148.66 L460.39,148.26 L459.82,148.07 L459.26,150.05 L458.69,149.33 L458.13,149.05 L457.56,149.17 L457.00,149.24 L456.43,149.01 L455.86,149.55 L455.30,150.97 L454.73,150.98 L454.17,150.68 L453.60,151.09 L453.04,150.80 L452.47,151.36 L451.91,151.37 L451.34,152.36 L450.77,151.34 L450.21,151.55 L449.64,152.46 L449.08,152.88 L448.51,152.87 L447.95,153.47 L447.38,152.97 L446.82,153.23 L446.25,153.06 L445.68,152.43 L445.12,152.72 L444.55,153.42 L443.99,152.75 L443.42,153.23 L442.86,153.19 L442.29,153.90 L441.72,152.07 L441.16,153.90 L440.59,153.90 L440.03,153.71 L439.46,152.96 L438.90,153.69 L438.33,153.73 L437.77,153.90 L437.20,153.90Z" fill="#c4e4c5"/>
<path d="M437.20,153.90 L437.77,153.10 L438.33,153.40 L438.90,153.08 L439.46,152.07 L440.03,153.90 L440.59,152.38 L441.16,151.80 L441.72,151.06 L442.29,152.51 L442.86,150.64 L443.42,150.82 L443.99,149.54 L444.55,149.47 L445.12,149.73 L445.68,148.04 L446.25,149.70 L446.82,149.82 L447.38,149.60 L447.95,149.99 L448.51,149.03 L449.08,150.53 L449.64,148.79 L450.21,148.19 L450.77,147.54 L451.34,148.59 L451.91,146.89 L452.47,148.57 L453.04,147.96 L453.60,149.37 L454.17,148.23 L454.73,148.12 L455.30,145.96 L455.86,146.66 L456.43,147.94 L457.00,146.68 L457.56,147.01 L458.13,147.91 L458.69,147.97 L459.26,148.53 L459.82,149.02 L460.39,149.88 L460.96,148.20 L461.52,146.78 L462.09,146.44 L462.65,147.72 L463.22,147.91 L463.78,147.23 L464.35,146.05 L464.91,146.31 L465.48,146.91 L466.05,145.87 L466.61,146.00 L467.18,144.94 L467.74,145.32 L468.31,145.83 L468.87,144.07 L469.44,143.03 L470.00,144.24 L470.57,142.94 L471.14,141.66 L471.70,142.32 L472.27,142.14 L472.83,139.38 L473.40,140.00 L473.96,139.41 L474.53,140.70 L475.10,138.03 L475.66,140.47 L476.23,139.13 L476.79,137.75 L477.36,136.96 L477.92,138.65 L478.49,138.14 L479.05,137.11 L479.62,138.68 L480.19,136.17 L480.75,135.96 L481.32,136.55 L481.88,135.42 L482.45,134.93 L483.01,134.82 L483.58,134.12 L484.14,132.74 L484.71,133.96 L485.28,132.89 L485.84,132.96 L486.41,131.10 L486.97,131.83 L487.54,130.55 L488.10,130.33 L488.67,129.87 L489.24,127.91 L489.80,128.93 L490.37,127.08 L490.93,127.05 L491.50,126.08 L492.06,126.82 L492.63,125.33 L493.19,124.94 L493.76,125.58 L494.33,124.27 L494.89,124.07 L495.46,123.41 L496.02,121.53 L496.59,122.55 L497.15,122.66 L497.72,121.99 L498.28,120.16 L498.85,119.60 L499.42,118.31 L499.98,117.11 L500.55,115.36 L501.11,115.89 L501.68,115.04 L502.24,115.38 L502.81,113.56 L503.38,112.21 L503.94,111.55 L504.51,113.70 L505.07,110.57 L505.64,109.30 L506.20,109.27 L506.77,110.58 L507.33,108.88 L507.90,107.43 L507.90,142.63 L507.33,143.43 L506.77,144.59 L506.20,145.28 L505.64,144.40 L505.07,146.54 L504.51,146.22 L503.94,147.39 L503.38,148.32 L502.81,148.23 L502.24,148.97 L501.68,149.02 L501.11,150.98 L500.55,150.77 L499.98,152.34 L499.42,153.08 L498.85,153.33 L498.28,153.90 L497.72,153.90 L497.15,153.90 L496.59,153.90 L496.02,153.90 L495.46,153.90 L494.89,153.90 L494.33,153.90 L493.76,153.90 L493.19,153.90 L492.63,153.90 L492.06,153.90 L491.50,153.90 L490.93,153.90 L490.37,153.90 L489.80,153.90 L489.24,153.90 L488.67,153.90 L488.10,153.90 L487.54,153.90 L486.97,153.90 L486.41,153.90 L485.84,153.90 L485.28,153.90 L484.71,153.90 L484.14,153.90 L483.58,153.90 L483.01,153.90 L482.45,153.90 L481.88,153.90 L481.32,153.90 L480.75,153.90 L480.19,153.90 L479.62,153.90 L479.05,153.90 L478.49,153.90 L477.92,153.90 L477.36,153.90 L476.79,153.90 L476.23,153.90 L475.66,153.90 L475.10,153.90 L474.53,153.90 L473.96,153.90 L473.40,153.90 L472.83,153.90 L472.27,153.90 L471.70,153.90 L471.14,153.90 L470.57,153.90 L470.00,153.90 L469.44,153.90 L468.87,153.90 L468.31,153.90 L467.74,153.90 L467.18,153.90 L466.61,153.90 L466.05,153.90 L465.48,153.90 L464.91,153.90 L464.35,153.90 L463.78,153.90 L463.22,153.90 L462.65,153.90 L462.09,153.90 L461.52,153.90 L460.96,153.90 L460.39,153.90 L459.82,153.90 L459.26,153.90 L458.69,153.90 L458.13,153.90 L457.56,153.90 L457.00,153.90 L456.43,153.90 L455.86,153.90 L455.30,153.90 L454.73,153.90 L454.17,153.90 L453.60,153.90 L453.04,153.90 L452.47,153.90 L451.91,153.90 L451.34,153.90 L450.77,153.90 L450.21,153.90 L449.64,153.90 L449.08,153.90 L448.51,153.90 L447.95,153.90 L447.38,153.90 L446.82,153.90 L446.25,153.90 L445.68,153.90 L445.12,153.90 L444.55,153.90 L443.99,153.90 L443.42,153.90 L442.86,153.90 L442.29,153.90 L441.72,153.90 L441.16,153.90 L440.59,153.90 L440.03,153.90 L439.46,153.90 L438.90,153.90 L438.33,153.90 L437.77,153.90 L437.20,153.90Z" fill="rgb(215,107,128)" fill-opacity="0.48"/>
<path d="M437.77,153.90 L438.33,153.41 L438.90,152.94 L439.46,152.23 L440.03,152.59 L440.59,151.81 L441.16,150.94 L441.72,150.54 L442.29,150.67 L442.86,150.60 L443.42,150.24 L443.99,149.36 L444.55,148.29 L445.12,148.48 L445.68,148.64 L446.25,147.99 L446.82,147.57 L447.38,147.40 L447.95,146.85 L448.51,145.86 L449.08,144.58 L449.64,144.57 L450.21,144.09 L450.77,142.67 L451.34,142.51 L451.91,141.41 L452.47,140.60 L453.04,140.20 L453.60,140.26 L454.17,139.53 L454.73,139.08 L455.30,138.26 L455.86,138.24 L456.43,136.97 L457.00,137.63 L457.56,136.98 L458.13,136.36 L458.69,135.35 L459.26,135.49 L459.82,134.75 L460.39,134.78 L460.96,133.90 L461.52,132.73 L462.09,133.11 L462.65,132.66 L463.22,132.98 L463.78,131.93 L464.35,131.09 L464.91,131.11 L465.48,131.56 L466.05,130.77 L466.61,129.65 L467.18,128.82 L467.74,128.27 L468.31,129.13 L468.87,128.66 L469.44,127.02 L470.00,127.34 L470.57,125.96 L471.14,124.58 L471.70,124.41 L472.27,123.95 L472.83,124.31 L473.40,124.79 L473.96,124.24 L474.53,123.83 L475.10,123.36 L475.66,122.55 L476.23,122.40 L476.79,121.94 L477.36,121.39 L477.92,121.16 L478.49,119.85 L479.05,119.76 L479.62,119.71 L480.19,119.65 L480.75,119.64 L481.32,118.23 L481.88,117.88 L482.45,118.08 L483.01,117.63 L483.58,116.90 L484.14,116.42 L484.71,115.08 L485.28,115.34 L485.84,114.34 L486.41,113.81 L486.97,114.01 L487.54,113.22 L488.10,112.66 L488.67,111.82 L489.24,111.67 L489.80,110.95 L490.37,111.40 L490.93,111.30 L491.50,110.19 L492.06,109.40 L492.63,109.47 L493.19,109.73 L493.76,108.87 L494.33,110.04 L494.89,109.84 L495.46,108.84 L496.02,108.23 L496.59,108.71 L497.15,109.29 L497.72,107.67 L498.28,107.45 L498.85,107.78 L499.42,107.32 L499.98,106.52 L500.55,107.87 L501.11,106.44 L501.68,105.80 L502.24,106.88 L502.81,105.76 L503.38,106.45 L503.94,105.11 L504.51,104.72 L505.07,103.41 L505.64,104.17 L506.20,104.10 L506.77,103.39 L507.33,103.82 L507.90,103.95" fill="none" stroke="#0e5c3c" stroke-width="1.6" stroke-linejoin="round"/>
<path d="M438.90,153.90 L439.46,153.63 L440.03,153.33 L440.59,153.32 L441.16,152.69 L441.72,153.06 L442.29,152.62 L442.86,153.02 L443.42,152.72 L443.99,153.49 L444.55,153.07 L445.12,152.96 L445.68,152.98 L446.25,152.99 L446.82,152.86 L447.38,152.89 L447.95,153.40 L448.51,153.05 L449.08,152.82 L449.64,152.66 L450.21,152.74 L450.77,152.41 L451.34,151.88 L451.91,151.95 L452.47,152.03 L453.04,151.38 L453.60,151.15 L454.17,151.02 L454.73,150.83 L455.30,151.24 L455.86,151.33 L456.43,150.90 L457.00,151.21 L457.56,151.14 L458.13,150.88 L458.69,150.69 L459.26,150.77 L459.82,150.30 L460.39,150.42 L460.96,150.10 L461.52,149.76 L462.09,149.68 L462.65,149.56 L463.22,150.11 L463.78,150.39 L464.35,150.22 L464.91,149.69 L465.48,149.00 L466.05,149.56 L466.61,149.23 L467.18,149.40 L467.74,149.37 L468.31,149.13 L468.87,148.59 L469.44,148.42 L470.00,147.92 L470.57,148.38 L471.14,147.86 L471.70,147.52 L472.27,147.59 L472.83,147.41 L473.40,147.62 L473.96,147.84 L474.53,147.64 L475.10,147.55 L475.66,146.18 L476.23,146.60 L476.79,145.94 L477.36,146.03 L477.92,145.93 L478.49,145.64 L479.05,145.93 L479.62,145.38 L480.19,145.20 L480.75,145.69 L481.32,145.08 L481.88,144.69 L482.45,144.44 L483.01,143.81 L483.58,144.12 L484.14,143.84 L484.71,143.52 L485.28,143.85 L485.84,143.16 L486.41,143.65 L486.97,143.73 L487.54,143.01 L488.10,143.12 L488.67,142.72 L489.24,142.96 L489.80,142.36 L490.37,142.38 L490.93,141.75 L491.50,142.00 L492.06,141.31 L492.63,141.12 L493.19,140.79 L493.76,140.57 L494.33,140.11 L494.89,140.20 L495.46,140.49 L496.02,139.52 L496.59,139.18 L497.15,138.65 L497.72,137.88 L498.28,138.15 L498.85,137.53 L499.42,136.76 L499.98,136.20 L500.55,135.10 L501.11,134.39 L501.68,133.94 L502.24,133.45 L502.81,132.23 L503.38,131.81 L503.94,130.71 L504.51,129.82 L505.07,129.82 L505.64,129.14 L506.20,128.02 L506.77,126.95 L507.33,125.87 L507.90,124.93" fill="none" stroke="#4d1463" stroke-width="1.6" stroke-linejoin="round"/>
<line x1="437.20" y1="82.50" x2="437.20" y2="154.40" stroke="#222" stroke-width="1.2"/>
<line x1="436.60" y1="153.90" x2="508.40" y2="153.90" stroke="#222" stroke-width="1.2"/>
<line x1="437.20" y1="153.90" x2="437.20" y2="155.90" stroke="#222" stroke-width="0.9"/>
<line x1="444.27" y1="153.90" x2="444.27" y2="155.90" stroke="#222" stroke-width="0.9"/>
<line x1="451.34" y1="153.90" x2="451.34" y2="155.90" stroke="#222" stroke-width="0.9"/>
<line x1="458.41" y1="153.90" x2="458.41" y2="155.90" stroke="#222" stroke-width="0.9"/>
<line x1="465.48" y1="153.90" x2="465.48" y2="155.90" stroke="#222" stroke-width="0.9"/>
<line x1="472.55" y1="153.90" x2="472.55" y2="155.90" stroke="#222" stroke-width="0.9"/>
<line x1="479.62" y1="153.90" x2="479.62" y2="155.90" stroke="#222" stroke-width="0.9"/>
<line x1="486.69" y1="153.90" x2="486.69" y2="155.90" stroke="#222" stroke-width="0.9"/>
<line x1="493.76" y1="153.90" x2="493.76" y2="155.90" stroke="#222" stroke-width="0.9"/>
<line x1="500.83" y1="153.90" x2="500.83" y2="155.90" stroke="#222" stroke-width="0.9"/>
<line x1="507.90" y1="153.90" x2="507.90" y2="155.90" stroke="#222" stroke-width="0.9"/>
<line x1="433.90" y1="153.90" x2="437.20" y2="153.90" stroke="#222" stroke-width="0.9"/>
<text x="426.95" y="156.50" font-size="8.6" fill="#333" textLength="4.45" lengthAdjust="spacingAndGlyphs" >0</text>
<line x1="433.90" y1="136.05" x2="437.20" y2="136.05" stroke="#222" stroke-width="0.9"/>
<text x="426.95" y="138.65" font-size="8.6" fill="#333" textLength="4.45" lengthAdjust="spacingAndGlyphs" >2</text>
<line x1="433.90" y1="118.20" x2="437.20" y2="118.20" stroke="#222" stroke-width="0.9"/>
<text x="426.95" y="120.80" font-size="8.6" fill="#333" textLength="4.45" lengthAdjust="spacingAndGlyphs" >4</text>
<line x1="433.90" y1="100.35" x2="437.20" y2="100.35" stroke="#222" stroke-width="0.9"/>
<text x="426.95" y="102.95" font-size="8.6" fill="#333" textLength="4.45" lengthAdjust="spacingAndGlyphs" >6</text>
<line x1="433.90" y1="82.50" x2="437.20" y2="82.50" stroke="#222" stroke-width="0.9"/>
<text x="426.95" y="85.10" font-size="8.6" fill="#333" textLength="4.45" lengthAdjust="spacingAndGlyphs" >8</text>
<text x="434.98" y="165.70" font-size="8.6" fill="#333" textLength="4.45" lengthAdjust="spacingAndGlyphs" >0</text>
<text x="465.88" y="165.70" font-size="8.6" fill="#333" textLength="13.34" lengthAdjust="spacingAndGlyphs" >250</text>
<text x="501.23" y="165.70" font-size="8.6" fill="#333" textLength="13.34" lengthAdjust="spacingAndGlyphs" >500</text>
<text x="460.70" y="176.50" font-size="9.2" fill="#333" textLength="23.70" lengthAdjust="spacingAndGlyphs" class="r">Time (s)</text>
<text class="r" transform="translate(422.60,117.60) rotate(-90)" x="-34.40" y="0" font-size="8.8" textLength="68.80" lengthAdjust="spacingAndGlyphs">Fluorescence (AU ×10<tspan font-size="5" dy="-3">3</tspan><tspan dy="3">)</tspan></text>
<circle cx="12.20" cy="194.40" r="2.2" fill="#cc0f30"/>
<text x="20.80" y="197.00" font-size="8.4" fill="#3c3c3c" textLength="19.20" lengthAdjust="spacingAndGlyphs" class="l">3% γ'</text>
<rect x="47.55" y="192.25" width="4.3" height="4.3" fill="#1b4f8c"/>
<text x="59.60" y="197.00" font-size="8.4" fill="#3c3c3c" textLength="23.10" lengthAdjust="spacingAndGlyphs" class="l">10% γ'</text>
<path d="M91.20,191.91L93.60,196.06L88.80,196.06Z" fill="#2aae4b"/>
<text x="98.80" y="197.00" font-size="8.4" fill="#3c3c3c" textLength="23.10" lengthAdjust="spacingAndGlyphs" class="l">30% γ'</text>
<circle cx="176.25" cy="193.80" r="2.2" fill="#cc0f30"/>
<text x="184.50" y="197.00" font-size="8.4" fill="#3c3c3c" textLength="21.75" lengthAdjust="spacingAndGlyphs" class="l">Low γ'</text>
<path d="M217.00,191.31L219.40,195.46L214.60,195.46Z" fill="#2aae4b"/>
<text x="225.00" y="197.00" font-size="8.4" fill="#3c3c3c" textLength="23.00" lengthAdjust="spacingAndGlyphs" class="l">High γ'</text>
<circle cx="278.75" cy="194.20" r="2.2" fill="#cc0f30"/>
<text x="286.25" y="197.00" font-size="8.4" fill="#3c3c3c" textLength="18.75" lengthAdjust="spacingAndGlyphs" class="l">3% γ'</text>
<rect x="314.10" y="192.05" width="4.3" height="4.3" fill="#1b4f8c"/>
<text x="325.50" y="197.00" font-size="8.4" fill="#3c3c3c" textLength="23.25" lengthAdjust="spacingAndGlyphs" class="l">10% γ'</text>
<path d="M357.00,191.71L359.40,195.86L354.60,195.86Z" fill="#2aae4b"/>
<text x="365.00" y="197.00" font-size="8.4" fill="#3c3c3c" textLength="23.75" lengthAdjust="spacingAndGlyphs" class="l">30% γ'</text>
<circle cx="432.00" cy="193.80" r="2.2" fill="#cc0f30"/>
<text x="440.50" y="197.00" font-size="8.4" fill="#3c3c3c" textLength="22.00" lengthAdjust="spacingAndGlyphs" class="l">Low γ'</text>
<path d="M473.25,191.31L475.65,195.46L470.85,195.46Z" fill="#2aae4b"/>
<text x="481.25" y="197.00" font-size="8.4" fill="#3c3c3c" textLength="23.25" lengthAdjust="spacingAndGlyphs" class="l">High γ'</text>
<line x1="66.90" y1="212.30" x2="66.90" y2="283.10" stroke="#222" stroke-width="1.2"/>
<line x1="66.30" y1="282.60" x2="113.50" y2="282.60" stroke="#222" stroke-width="1.2"/>
<line x1="63.60" y1="212.30" x2="66.90" y2="212.30" stroke="#222" stroke-width="0.9"/>
<text x="47.76" y="214.90" font-size="8.6" fill="#333" textLength="13.34" lengthAdjust="spacingAndGlyphs" >300</text>
<line x1="63.60" y1="235.70" x2="66.90" y2="235.70" stroke="#222" stroke-width="0.9"/>
<text x="47.76" y="238.30" font-size="8.6" fill="#333" textLength="13.34" lengthAdjust="spacingAndGlyphs" >200</text>
<line x1="63.60" y1="259.20" x2="66.90" y2="259.20" stroke="#222" stroke-width="0.9"/>
<text x="47.76" y="261.80" font-size="8.6" fill="#333" textLength="13.34" lengthAdjust="spacingAndGlyphs" >100</text>
<line x1="63.60" y1="282.60" x2="66.90" y2="282.60" stroke="#222" stroke-width="0.9"/>
<text x="56.65" y="285.20" font-size="8.6" fill="#333" textLength="4.45" lengthAdjust="spacingAndGlyphs" >0</text>
<line x1="75.90" y1="282.60" x2="75.90" y2="285.40" stroke="#222" stroke-width="0.9"/>
<line x1="89.70" y1="282.60" x2="89.70" y2="285.40" stroke="#222" stroke-width="0.9"/>
<line x1="103.90" y1="282.60" x2="103.90" y2="285.40" stroke="#222" stroke-width="0.9"/>
<circle cx="73.60" cy="222.70" r="2.25" fill="#cc0f30"/>
<circle cx="78.10" cy="227.20" r="2.25" fill="#cc0f30"/>
<circle cx="75.90" cy="233.90" r="2.25" fill="#cc0f30"/>
<line x1="75.90" y1="222.10" x2="75.90" y2="233.90" stroke="#2b2b2b" stroke-width="1.1"/>
<line x1="73.20" y1="222.10" x2="78.60" y2="222.10" stroke="#2b2b2b" stroke-width="1.1"/>
<line x1="73.20" y1="233.90" x2="78.60" y2="233.90" stroke="#2b2b2b" stroke-width="1.1"/>
<line x1="71.20" y1="227.80" x2="80.50" y2="227.80" stroke="#2b2b2b" stroke-width="1.1"/>
<line x1="90.30" y1="226.00" x2="90.30" y2="244.10" stroke="#2b2b2b" stroke-width="1.1"/>
<line x1="87.60" y1="226.00" x2="93.00" y2="226.00" stroke="#2b2b2b" stroke-width="1.1"/>
<line x1="87.60" y1="244.10" x2="93.00" y2="244.10" stroke="#2b2b2b" stroke-width="1.1"/>
<line x1="85.40" y1="236.30" x2="94.60" y2="236.30" stroke="#2b2b2b" stroke-width="1.1"/>
<rect x="88.10" y="225.00" width="4.4" height="4.4" fill="#1b4f8c"/>
<rect x="90.40" y="236.30" width="4.4" height="4.4" fill="#1b4f8c"/>
<rect x="85.90" y="240.60" width="4.4" height="4.4" fill="#1b4f8c"/>
<path d="M103.90,257.30L106.40,261.63L101.40,261.63Z" fill="#2aae4b"/>
<path d="M101.70,272.20L104.20,276.53L99.20,276.53Z" fill="#2aae4b"/>
<path d="M106.40,272.20L108.90,276.53L103.90,276.53Z" fill="#2aae4b"/>
<line x1="103.90" y1="260.30" x2="103.90" y2="278.60" stroke="#2b2b2b" stroke-width="1.1"/>
<line x1="101.20" y1="260.30" x2="106.60" y2="260.30" stroke="#2b2b2b" stroke-width="1.1"/>
<line x1="101.20" y1="278.60" x2="106.60" y2="278.60" stroke="#2b2b2b" stroke-width="1.1"/>
<line x1="99.90" y1="269.30" x2="109.10" y2="269.30" stroke="#2b2b2b" stroke-width="1.1"/>
<line x1="75.90" y1="218.10" x2="89.90" y2="218.10" stroke="#1c1c1c" stroke-width="1.4"/>
<path d="M80.90,214.10 L81.34,214.99 L82.33,215.14 L81.61,215.83 L81.78,216.81 L80.90,216.35 L80.02,216.81 L80.19,215.83 L79.47,215.14 L80.46,214.99Z" fill="#1e1e1e" stroke="#1e1e1e" stroke-width="0.5" stroke-linejoin="round"/>
<path d="M84.90,214.10 L85.34,214.99 L86.33,215.14 L85.61,215.83 L85.78,216.81 L84.90,216.35 L84.02,216.81 L84.19,215.83 L83.47,215.14 L84.46,214.99Z" fill="#1e1e1e" stroke="#1e1e1e" stroke-width="0.5" stroke-linejoin="round"/>
<line x1="75.90" y1="212.70" x2="103.90" y2="212.70" stroke="#1c1c1c" stroke-width="1.4"/>
<path d="M87.90,208.70 L88.34,209.59 L89.33,209.74 L88.61,210.43 L88.78,211.41 L87.90,210.95 L87.02,211.41 L87.19,210.43 L86.47,209.74 L87.46,209.59Z" fill="#1e1e1e" stroke="#1e1e1e" stroke-width="0.5" stroke-linejoin="round"/>
<path d="M91.90,208.70 L92.34,209.59 L93.33,209.74 L92.61,210.43 L92.78,211.41 L91.90,210.95 L91.02,211.41 L91.19,210.43 L90.47,209.74 L91.46,209.59Z" fill="#1e1e1e" stroke="#1e1e1e" stroke-width="0.5" stroke-linejoin="round"/>
<text class="r" transform="translate(30.60,247.30) rotate(-90)" x="-25.25" y="0" font-size="8.1" textLength="50.50" lengthAdjust="spacingAndGlyphs" fill="#333">Time to first fibrin</text>
<text class="r" transform="translate(41.00,247.40) rotate(-90)" x="-20.10" y="0" font-size="8.1" textLength="40.20" lengthAdjust="spacingAndGlyphs" fill="#333">deposition (s)</text>
<line x1="196.50" y1="212.70" x2="196.50" y2="283.00" stroke="#222" stroke-width="1.2"/>
<line x1="195.90" y1="282.50" x2="242.30" y2="282.50" stroke="#222" stroke-width="1.2"/>
<line x1="193.20" y1="212.70" x2="196.50" y2="212.70" stroke="#222" stroke-width="0.9"/>
<text x="177.36" y="215.30" font-size="8.6" fill="#333" textLength="13.34" lengthAdjust="spacingAndGlyphs" >300</text>
<line x1="193.20" y1="236.00" x2="196.50" y2="236.00" stroke="#222" stroke-width="0.9"/>
<text x="177.36" y="238.60" font-size="8.6" fill="#333" textLength="13.34" lengthAdjust="spacingAndGlyphs" >200</text>
<line x1="193.20" y1="259.30" x2="196.50" y2="259.30" stroke="#222" stroke-width="0.9"/>
<text x="177.36" y="261.90" font-size="8.6" fill="#333" textLength="13.34" lengthAdjust="spacingAndGlyphs" >100</text>
<line x1="193.20" y1="282.50" x2="196.50" y2="282.50" stroke="#222" stroke-width="0.9"/>
<text x="186.25" y="285.10" font-size="8.6" fill="#333" textLength="4.45" lengthAdjust="spacingAndGlyphs" >0</text>
<line x1="210.00" y1="282.50" x2="210.00" y2="285.30" stroke="#222" stroke-width="0.9"/>
<line x1="230.30" y1="282.50" x2="230.30" y2="285.30" stroke="#222" stroke-width="0.9"/>
<circle cx="210.00" cy="231.60" r="2.25" fill="#cc0f30"/>
<circle cx="205.80" cy="241.50" r="2.25" fill="#cc0f30"/>
<circle cx="214.00" cy="241.50" r="2.25" fill="#cc0f30"/>
<circle cx="210.00" cy="244.50" r="2.25" fill="#cc0f30"/>
<circle cx="210.00" cy="256.00" r="2.25" fill="#cc0f30"/>
<line x1="210.00" y1="234.50" x2="210.00" y2="251.70" stroke="#2b2b2b" stroke-width="1.1"/>
<line x1="207.00" y1="234.50" x2="213.00" y2="234.50" stroke="#2b2b2b" stroke-width="1.1"/>
<line x1="207.00" y1="251.70" x2="213.00" y2="251.70" stroke="#2b2b2b" stroke-width="1.1"/>
<line x1="203.40" y1="243.10" x2="217.10" y2="243.10" stroke="#2b2b2b" stroke-width="1.1"/>
<path d="M230.30,252.50L232.80,256.83L227.80,256.83Z" fill="#2aae4b"/>
<path d="M234.30,256.40L236.80,260.73L231.80,260.73Z" fill="#2aae4b"/>
<path d="M225.70,261.90L228.20,266.23L223.20,266.23Z" fill="#2aae4b"/>
<path d="M234.30,261.90L236.80,266.23L231.80,266.23Z" fill="#2aae4b"/>
<path d="M230.30,259.90L232.80,264.23L227.80,264.23Z" fill="#2aae4b"/>
<line x1="230.30" y1="256.50" x2="230.30" y2="264.20" stroke="#2b2b2b" stroke-width="1.1"/>
<line x1="227.30" y1="256.50" x2="233.30" y2="256.50" stroke="#2b2b2b" stroke-width="1.1"/>
<line x1="227.30" y1="264.20" x2="233.30" y2="264.20" stroke="#2b2b2b" stroke-width="1.1"/>
<line x1="223.40" y1="260.70" x2="237.20" y2="260.70" stroke="#2b2b2b" stroke-width="1.1"/>
<line x1="210.20" y1="225.20" x2="230.00" y2="225.20" stroke="#1c1c1c" stroke-width="1.4"/>
<path d="M218.10,221.20 L218.54,222.09 L219.53,222.24 L218.81,222.93 L218.98,223.91 L218.10,223.45 L217.22,223.91 L217.39,222.93 L216.67,222.24 L217.66,222.09Z" fill="#1e1e1e" stroke="#1e1e1e" stroke-width="0.5" stroke-linejoin="round"/>
<path d="M222.10,221.20 L222.54,222.09 L223.53,222.24 L222.81,222.93 L222.98,223.91 L222.10,223.45 L221.22,223.91 L221.39,222.93 L220.67,222.24 L221.66,222.09Z" fill="#1e1e1e" stroke="#1e1e1e" stroke-width="0.5" stroke-linejoin="round"/>
<text class="r" transform="translate(161.00,247.20) rotate(-90)" x="-25.95" y="0" font-size="8.1" textLength="51.90" lengthAdjust="spacingAndGlyphs" fill="#333">Time to first fibrin</text>
<text class="r" transform="translate(171.30,248.00) rotate(-90)" x="-20.70" y="0" font-size="8.1" textLength="41.40" lengthAdjust="spacingAndGlyphs" fill="#333">deposition (s)</text>
<line x1="333.60" y1="211.90" x2="333.60" y2="283.00" stroke="#222" stroke-width="1.2"/>
<line x1="333.00" y1="282.50" x2="380.70" y2="282.50" stroke="#222" stroke-width="1.2"/>
<line x1="330.30" y1="211.90" x2="333.60" y2="211.90" stroke="#222" stroke-width="0.9"/>
<text x="314.46" y="214.50" font-size="8.6" fill="#333" textLength="13.34" lengthAdjust="spacingAndGlyphs" >500</text>
<line x1="330.30" y1="226.00" x2="333.60" y2="226.00" stroke="#222" stroke-width="0.9"/>
<text x="314.46" y="228.60" font-size="8.6" fill="#333" textLength="13.34" lengthAdjust="spacingAndGlyphs" >400</text>
<line x1="330.30" y1="240.10" x2="333.60" y2="240.10" stroke="#222" stroke-width="0.9"/>
<text x="314.46" y="242.70" font-size="8.6" fill="#333" textLength="13.34" lengthAdjust="spacingAndGlyphs" >300</text>
<line x1="330.30" y1="254.30" x2="333.60" y2="254.30" stroke="#222" stroke-width="0.9"/>
<text x="314.46" y="256.90" font-size="8.6" fill="#333" textLength="13.34" lengthAdjust="spacingAndGlyphs" >200</text>
<line x1="330.30" y1="268.40" x2="333.60" y2="268.40" stroke="#222" stroke-width="0.9"/>
<text x="314.46" y="271.00" font-size="8.6" fill="#333" textLength="13.34" lengthAdjust="spacingAndGlyphs" >100</text>
<line x1="330.30" y1="282.50" x2="333.60" y2="282.50" stroke="#222" stroke-width="0.9"/>
<text x="323.35" y="285.10" font-size="8.6" fill="#333" textLength="4.45" lengthAdjust="spacingAndGlyphs" >0</text>
<line x1="343.90" y1="282.50" x2="343.90" y2="285.30" stroke="#222" stroke-width="0.9"/>
<line x1="357.80" y1="282.50" x2="357.80" y2="285.30" stroke="#222" stroke-width="0.9"/>
<line x1="371.70" y1="282.50" x2="371.70" y2="285.30" stroke="#222" stroke-width="0.9"/>
<circle cx="343.90" cy="227.30" r="2.25" fill="#cc0f30"/>
<circle cx="343.90" cy="234.70" r="2.25" fill="#cc0f30"/>
<circle cx="343.90" cy="247.90" r="2.25" fill="#cc0f30"/>
<line x1="343.90" y1="226.40" x2="343.90" y2="246.70" stroke="#2b2b2b" stroke-width="1.1"/>
<line x1="341.70" y1="226.40" x2="346.10" y2="226.40" stroke="#2b2b2b" stroke-width="1.1"/>
<line x1="341.70" y1="246.70" x2="346.10" y2="246.70" stroke="#2b2b2b" stroke-width="1.1"/>
<line x1="339.10" y1="236.40" x2="348.50" y2="236.40" stroke="#2b2b2b" stroke-width="1.1"/>
<line x1="357.80" y1="252.70" x2="357.80" y2="268.10" stroke="#2b2b2b" stroke-width="1.1"/>
<line x1="355.60" y1="252.70" x2="360.00" y2="252.70" stroke="#2b2b2b" stroke-width="1.1"/>
<line x1="355.60" y1="268.10" x2="360.00" y2="268.10" stroke="#2b2b2b" stroke-width="1.1"/>
<line x1="353.30" y1="260.40" x2="362.70" y2="260.40" stroke="#2b2b2b" stroke-width="1.1"/>
<rect x="353.30" y="252.20" width="4.4" height="4.4" fill="#1b4f8c"/>
<rect x="358.00" y="256.30" width="4.4" height="4.4" fill="#1b4f8c"/>
<rect x="355.90" y="267.10" width="4.4" height="4.4" fill="#1b4f8c"/>
<path d="M371.70,277.40L374.20,281.73L369.20,281.73Z" fill="#2aae4b"/>
<path d="M370.50,278.00L373.00,282.33L368.00,282.33Z" fill="#2aae4b"/>
<path d="M373.00,278.00L375.50,282.33L370.50,282.33Z" fill="#2aae4b"/>
<line x1="371.70" y1="279.50" x2="371.70" y2="280.50" stroke="#2b2b2b" stroke-width="1.1"/>
<line x1="369.70" y1="279.50" x2="373.70" y2="279.50" stroke="#2b2b2b" stroke-width="1.1"/>
<line x1="369.70" y1="280.50" x2="373.70" y2="280.50" stroke="#2b2b2b" stroke-width="1.1"/>
<line x1="368.70" y1="280.00" x2="375.60" y2="280.00" stroke="#2b2b2b" stroke-width="1.1"/>
<line x1="343.50" y1="219.10" x2="371.30" y2="219.10" stroke="#1c1c1c" stroke-width="1.4"/>
<path d="M353.40,215.10 L353.84,215.99 L354.83,216.14 L354.11,216.83 L354.28,217.81 L353.40,217.35 L352.52,217.81 L352.69,216.83 L351.97,216.14 L352.96,215.99Z" fill="#1e1e1e" stroke="#1e1e1e" stroke-width="0.5" stroke-linejoin="round"/>
<path d="M357.40,215.10 L357.84,215.99 L358.83,216.14 L358.11,216.83 L358.28,217.81 L357.40,217.35 L356.52,217.81 L356.69,216.83 L355.97,216.14 L356.96,215.99Z" fill="#1e1e1e" stroke="#1e1e1e" stroke-width="0.5" stroke-linejoin="round"/>
<path d="M361.40,215.10 L361.84,215.99 L362.83,216.14 L362.11,216.83 L362.28,217.81 L361.40,217.35 L360.52,217.81 L360.69,216.83 L359.97,216.14 L360.96,215.99Z" fill="#1e1e1e" stroke="#1e1e1e" stroke-width="0.5" stroke-linejoin="round"/>
<line x1="343.50" y1="224.20" x2="356.70" y2="224.20" stroke="#1c1c1c" stroke-width="1.4"/>
<path d="M350.10,220.20 L350.54,221.09 L351.53,221.24 L350.81,221.93 L350.98,222.91 L350.10,222.45 L349.22,222.91 L349.39,221.93 L348.67,221.24 L349.66,221.09Z" fill="#1e1e1e" stroke="#1e1e1e" stroke-width="0.5" stroke-linejoin="round"/>
<line x1="358.40" y1="224.20" x2="371.30" y2="224.20" stroke="#1c1c1c" stroke-width="1.4"/>
<path d="M364.85,220.20 L365.29,221.09 L366.28,221.24 L365.56,221.93 L365.73,222.91 L364.85,222.45 L363.97,222.91 L364.14,221.93 L363.42,221.24 L364.41,221.09Z" fill="#1e1e1e" stroke="#1e1e1e" stroke-width="0.5" stroke-linejoin="round"/>
<text class="r" transform="translate(299.00,247.00) rotate(-90)" x="-25.65" y="0" font-size="8.1" textLength="51.30" lengthAdjust="spacingAndGlyphs" fill="#333">Time to first fibrin</text>
<text class="r" transform="translate(309.00,247.00) rotate(-90)" x="-20.50" y="0" font-size="8.1" textLength="41.00" lengthAdjust="spacingAndGlyphs" fill="#333">deposition (s)</text>
<line x1="461.00" y1="212.70" x2="461.00" y2="283.50" stroke="#222" stroke-width="1.2"/>
<line x1="460.40" y1="283.00" x2="507.30" y2="283.00" stroke="#222" stroke-width="1.2"/>
<line x1="457.70" y1="212.70" x2="461.00" y2="212.70" stroke="#222" stroke-width="0.9"/>
<text x="441.86" y="215.30" font-size="8.6" fill="#333" textLength="13.34" lengthAdjust="spacingAndGlyphs" >500</text>
<line x1="457.70" y1="226.80" x2="461.00" y2="226.80" stroke="#222" stroke-width="0.9"/>
<text x="441.86" y="229.40" font-size="8.6" fill="#333" textLength="13.34" lengthAdjust="spacingAndGlyphs" >400</text>
<line x1="457.70" y1="240.80" x2="461.00" y2="240.80" stroke="#222" stroke-width="0.9"/>
<text x="441.86" y="243.40" font-size="8.6" fill="#333" textLength="13.34" lengthAdjust="spacingAndGlyphs" >300</text>
<line x1="457.70" y1="254.90" x2="461.00" y2="254.90" stroke="#222" stroke-width="0.9"/>
<text x="441.86" y="257.50" font-size="8.6" fill="#333" textLength="13.34" lengthAdjust="spacingAndGlyphs" >200</text>
<line x1="457.70" y1="268.90" x2="461.00" y2="268.90" stroke="#222" stroke-width="0.9"/>
<text x="441.86" y="271.50" font-size="8.6" fill="#333" textLength="13.34" lengthAdjust="spacingAndGlyphs" >100</text>
<line x1="457.70" y1="283.00" x2="461.00" y2="283.00" stroke="#222" stroke-width="0.9"/>
<text x="450.75" y="285.60" font-size="8.6" fill="#333" textLength="4.45" lengthAdjust="spacingAndGlyphs" >0</text>
<line x1="474.20" y1="283.00" x2="474.20" y2="285.80" stroke="#222" stroke-width="0.9"/>
<line x1="494.50" y1="283.00" x2="494.50" y2="285.80" stroke="#222" stroke-width="0.9"/>
<circle cx="473.90" cy="233.80" r="2.25" fill="#cc0f30"/>
<circle cx="473.90" cy="245.30" r="2.25" fill="#cc0f30"/>
<circle cx="473.90" cy="265.40" r="2.25" fill="#cc0f30"/>
<circle cx="470.10" cy="273.30" r="2.25" fill="#cc0f30"/>
<circle cx="478.50" cy="271.60" r="2.25" fill="#cc0f30"/>
<line x1="474.20" y1="240.70" x2="474.20" y2="275.30" stroke="#2b2b2b" stroke-width="1.1"/>
<line x1="471.00" y1="240.70" x2="477.40" y2="240.70" stroke="#2b2b2b" stroke-width="1.1"/>
<line x1="471.00" y1="275.30" x2="477.40" y2="275.30" stroke="#2b2b2b" stroke-width="1.1"/>
<line x1="467.30" y1="258.20" x2="481.60" y2="258.20" stroke="#2b2b2b" stroke-width="1.1"/>
<path d="M490.20,274.10L492.70,278.43L487.70,278.43Z" fill="#2aae4b"/>
<path d="M498.70,275.80L501.20,280.13L496.20,280.13Z" fill="#2aae4b"/>
<path d="M490.70,279.60L493.20,283.93L488.20,283.93Z" fill="#2aae4b"/>
<path d="M497.90,278.90L500.40,283.23L495.40,283.23Z" fill="#2aae4b"/>
<path d="M494.30,273.40L496.80,277.73L491.80,277.73Z" fill="#2aae4b"/>
<line x1="494.50" y1="275.80" x2="494.50" y2="281.80" stroke="#2b2b2b" stroke-width="1.1"/>
<line x1="491.30" y1="275.80" x2="497.70" y2="275.80" stroke="#2b2b2b" stroke-width="1.1"/>
<line x1="491.30" y1="281.80" x2="497.70" y2="281.80" stroke="#2b2b2b" stroke-width="1.1"/>
<line x1="487.90" y1="279.30" x2="501.00" y2="279.30" stroke="#2b2b2b" stroke-width="1.1"/>
<line x1="474.20" y1="226.80" x2="494.50" y2="226.80" stroke="#1c1c1c" stroke-width="1.4"/>
<path d="M484.35,222.80 L484.79,223.69 L485.78,223.84 L485.06,224.53 L485.23,225.51 L484.35,225.05 L483.47,225.51 L483.64,224.53 L482.92,223.84 L483.91,223.69Z" fill="#1e1e1e" stroke="#1e1e1e" stroke-width="0.5" stroke-linejoin="round"/>
<text class="r" transform="translate(426.00,247.80) rotate(-90)" x="-25.70" y="0" font-size="8.1" textLength="51.40" lengthAdjust="spacingAndGlyphs" fill="#333">Time to first fibrin</text>
<text class="r" transform="translate(436.00,247.70) rotate(-90)" x="-20.35" y="0" font-size="8.1" textLength="40.70" lengthAdjust="spacingAndGlyphs" fill="#333">deposition (s)</text>
<line x1="64.50" y1="311.30" x2="64.50" y2="384.30" stroke="#222" stroke-width="1.2"/>
<line x1="63.90" y1="383.80" x2="112.60" y2="383.80" stroke="#222" stroke-width="1.2"/>
<line x1="61.20" y1="311.30" x2="64.50" y2="311.30" stroke="#222" stroke-width="0.9"/>
<text x="49.81" y="313.90" font-size="8.6" fill="#333" textLength="8.89" lengthAdjust="spacingAndGlyphs" >15</text>
<line x1="61.20" y1="335.50" x2="64.50" y2="335.50" stroke="#222" stroke-width="0.9"/>
<text x="49.81" y="338.10" font-size="8.6" fill="#333" textLength="8.89" lengthAdjust="spacingAndGlyphs" >10</text>
<line x1="61.20" y1="359.60" x2="64.50" y2="359.60" stroke="#222" stroke-width="0.9"/>
<text x="54.25" y="362.20" font-size="8.6" fill="#333" textLength="4.45" lengthAdjust="spacingAndGlyphs" >5</text>
<line x1="61.20" y1="383.80" x2="64.50" y2="383.80" stroke="#222" stroke-width="0.9"/>
<text x="54.25" y="386.40" font-size="8.6" fill="#333" textLength="4.45" lengthAdjust="spacingAndGlyphs" >0</text>
<line x1="75.00" y1="383.80" x2="75.00" y2="386.60" stroke="#222" stroke-width="0.9"/>
<line x1="89.00" y1="383.80" x2="89.00" y2="386.60" stroke="#222" stroke-width="0.9"/>
<line x1="103.50" y1="383.80" x2="103.50" y2="386.60" stroke="#222" stroke-width="0.9"/>
<circle cx="75.00" cy="352.60" r="2.25" fill="#cc0f30"/>
<circle cx="75.00" cy="359.30" r="2.25" fill="#cc0f30"/>
<circle cx="75.00" cy="365.70" r="2.25" fill="#cc0f30"/>
<line x1="75.00" y1="352.60" x2="75.00" y2="365.70" stroke="#2b2b2b" stroke-width="1.1"/>
<line x1="72.80" y1="352.60" x2="77.20" y2="352.60" stroke="#2b2b2b" stroke-width="1.1"/>
<line x1="72.80" y1="365.70" x2="77.20" y2="365.70" stroke="#2b2b2b" stroke-width="1.1"/>
<line x1="69.90" y1="359.30" x2="79.90" y2="359.30" stroke="#2b2b2b" stroke-width="1.1"/>
<line x1="89.00" y1="339.60" x2="89.00" y2="360.80" stroke="#2b2b2b" stroke-width="1.1"/>
<line x1="86.80" y1="339.60" x2="91.20" y2="339.60" stroke="#2b2b2b" stroke-width="1.1"/>
<line x1="86.80" y1="360.80" x2="91.20" y2="360.80" stroke="#2b2b2b" stroke-width="1.1"/>
<line x1="85.00" y1="349.90" x2="94.10" y2="349.90" stroke="#2b2b2b" stroke-width="1.1"/>
<rect x="86.80" y="337.40" width="4.4" height="4.4" fill="#1b4f8c"/>
<rect x="86.80" y="347.70" width="4.4" height="4.4" fill="#1b4f8c"/>
<rect x="86.80" y="358.60" width="4.4" height="4.4" fill="#1b4f8c"/>
<path d="M103.50,323.70L106.00,328.03L101.00,328.03Z" fill="#2aae4b"/>
<path d="M103.50,331.90L106.00,336.23L101.00,336.23Z" fill="#2aae4b"/>
<path d="M103.50,340.00L106.00,344.33L101.00,344.33Z" fill="#2aae4b"/>
<line x1="103.50" y1="326.30" x2="103.50" y2="342.60" stroke="#2b2b2b" stroke-width="1.1"/>
<line x1="101.30" y1="326.30" x2="105.70" y2="326.30" stroke="#2b2b2b" stroke-width="1.1"/>
<line x1="101.30" y1="342.60" x2="105.70" y2="342.60" stroke="#2b2b2b" stroke-width="1.1"/>
<line x1="99.00" y1="333.90" x2="108.60" y2="333.90" stroke="#2b2b2b" stroke-width="1.1"/>
<line x1="75.40" y1="318.70" x2="103.50" y2="318.70" stroke="#1c1c1c" stroke-width="1.4"/>
<path d="M89.45,314.70 L89.89,315.59 L90.88,315.74 L90.16,316.43 L90.33,317.41 L89.45,316.95 L88.57,317.41 L88.74,316.43 L88.02,315.74 L89.01,315.59Z" fill="#1e1e1e" stroke="#1e1e1e" stroke-width="0.5" stroke-linejoin="round"/>
<text class="r" transform="translate(45.50,347.60) rotate(-90)" x="-27.95" y="0" font-size="8.1" textLength="55.90" lengthAdjust="spacingAndGlyphs" fill="#333">Max fluor (Au ×10<tspan font-size="5" dy="-3">3</tspan><tspan dy="3">)</tspan></text>
<line x1="196.40" y1="312.70" x2="196.40" y2="384.30" stroke="#222" stroke-width="1.2"/>
<line x1="195.80" y1="383.80" x2="243.75" y2="383.80" stroke="#222" stroke-width="1.2"/>
<line x1="193.10" y1="312.70" x2="196.40" y2="312.70" stroke="#222" stroke-width="0.9"/>
<text x="181.71" y="315.30" font-size="8.6" fill="#333" textLength="8.89" lengthAdjust="spacingAndGlyphs" >15</text>
<line x1="193.10" y1="336.40" x2="196.40" y2="336.40" stroke="#222" stroke-width="0.9"/>
<text x="181.71" y="339.00" font-size="8.6" fill="#333" textLength="8.89" lengthAdjust="spacingAndGlyphs" >10</text>
<line x1="193.10" y1="360.10" x2="196.40" y2="360.10" stroke="#222" stroke-width="0.9"/>
<text x="186.15" y="362.70" font-size="8.6" fill="#333" textLength="4.45" lengthAdjust="spacingAndGlyphs" >5</text>
<line x1="193.10" y1="383.80" x2="196.40" y2="383.80" stroke="#222" stroke-width="0.9"/>
<text x="186.15" y="386.40" font-size="8.6" fill="#333" textLength="4.45" lengthAdjust="spacingAndGlyphs" >0</text>
<line x1="209.60" y1="383.80" x2="209.60" y2="386.60" stroke="#222" stroke-width="0.9"/>
<line x1="229.60" y1="383.80" x2="229.60" y2="386.60" stroke="#222" stroke-width="0.9"/>
<circle cx="205.10" cy="347.20" r="2.25" fill="#cc0f30"/>
<circle cx="213.60" cy="348.60" r="2.25" fill="#cc0f30"/>
<circle cx="209.60" cy="357.70" r="2.25" fill="#cc0f30"/>
<circle cx="209.60" cy="366.80" r="2.25" fill="#cc0f30"/>
<circle cx="209.60" cy="375.00" r="2.25" fill="#cc0f30"/>
<line x1="209.60" y1="347.20" x2="209.60" y2="370.80" stroke="#2b2b2b" stroke-width="1.1"/>
<line x1="206.80" y1="347.20" x2="212.40" y2="347.20" stroke="#2b2b2b" stroke-width="1.1"/>
<line x1="206.80" y1="370.80" x2="212.40" y2="370.80" stroke="#2b2b2b" stroke-width="1.1"/>
<line x1="202.70" y1="359.00" x2="216.90" y2="359.00" stroke="#2b2b2b" stroke-width="1.1"/>
<path d="M229.60,311.60L232.10,315.93L227.10,315.93Z" fill="#2aae4b"/>
<path d="M229.60,321.50L232.10,325.83L227.10,325.83Z" fill="#2aae4b"/>
<path d="M225.40,329.50L227.90,333.83L222.90,333.83Z" fill="#2aae4b"/>
<path d="M234.10,331.30L236.60,335.63L231.60,335.63Z" fill="#2aae4b"/>
<path d="M229.60,338.80L232.10,343.13L227.10,343.13Z" fill="#2aae4b"/>
<line x1="229.60" y1="318.10" x2="229.60" y2="338.70" stroke="#2b2b2b" stroke-width="1.1"/>
<line x1="226.80" y1="318.10" x2="232.40" y2="318.10" stroke="#2b2b2b" stroke-width="1.1"/>
<line x1="226.80" y1="338.70" x2="232.40" y2="338.70" stroke="#2b2b2b" stroke-width="1.1"/>
<line x1="223.00" y1="328.50" x2="237.20" y2="328.50" stroke="#2b2b2b" stroke-width="1.1"/>
<line x1="209.10" y1="308.20" x2="229.00" y2="308.20" stroke="#1c1c1c" stroke-width="1.4"/>
<path d="M217.05,304.20 L217.49,305.09 L218.48,305.24 L217.76,305.93 L217.93,306.91 L217.05,306.45 L216.17,306.91 L216.34,305.93 L215.62,305.24 L216.61,305.09Z" fill="#1e1e1e" stroke="#1e1e1e" stroke-width="0.5" stroke-linejoin="round"/>
<path d="M221.05,304.20 L221.49,305.09 L222.48,305.24 L221.76,305.93 L221.93,306.91 L221.05,306.45 L220.17,306.91 L220.34,305.93 L219.62,305.24 L220.61,305.09Z" fill="#1e1e1e" stroke="#1e1e1e" stroke-width="0.5" stroke-linejoin="round"/>
<text class="r" transform="translate(176.80,348.10) rotate(-90)" x="-28.00" y="0" font-size="8.1" textLength="56.00" lengthAdjust="spacingAndGlyphs" fill="#333">Max fluor (Au ×10<tspan font-size="5" dy="-3">3</tspan><tspan dy="3">)</tspan></text>
<line x1="334.50" y1="314.90" x2="334.50" y2="385.80" stroke="#222" stroke-width="1.2"/>
<line x1="333.90" y1="385.30" x2="382.60" y2="385.30" stroke="#222" stroke-width="1.2"/>
<line x1="331.20" y1="314.90" x2="334.50" y2="314.90" stroke="#222" stroke-width="0.9"/>
<text x="324.25" y="317.50" font-size="8.6" fill="#333" textLength="4.45" lengthAdjust="spacingAndGlyphs" >8</text>
<line x1="331.20" y1="332.50" x2="334.50" y2="332.50" stroke="#222" stroke-width="0.9"/>
<text x="324.25" y="335.10" font-size="8.6" fill="#333" textLength="4.45" lengthAdjust="spacingAndGlyphs" >6</text>
<line x1="331.20" y1="350.10" x2="334.50" y2="350.10" stroke="#222" stroke-width="0.9"/>
<text x="324.25" y="352.70" font-size="8.6" fill="#333" textLength="4.45" lengthAdjust="spacingAndGlyphs" >4</text>
<line x1="331.20" y1="367.70" x2="334.50" y2="367.70" stroke="#222" stroke-width="0.9"/>
<text x="324.25" y="370.30" font-size="8.6" fill="#333" textLength="4.45" lengthAdjust="spacingAndGlyphs" >2</text>
<line x1="331.20" y1="385.30" x2="334.50" y2="385.30" stroke="#222" stroke-width="0.9"/>
<text x="324.25" y="387.90" font-size="8.6" fill="#333" textLength="4.45" lengthAdjust="spacingAndGlyphs" >0</text>
<line x1="344.90" y1="385.30" x2="344.90" y2="388.10" stroke="#222" stroke-width="0.9"/>
<line x1="359.10" y1="385.30" x2="359.10" y2="388.10" stroke="#222" stroke-width="0.9"/>
<line x1="373.50" y1="385.30" x2="373.50" y2="388.10" stroke="#222" stroke-width="0.9"/>
<circle cx="342.30" cy="370.70" r="2.25" fill="#cc0f30"/>
<circle cx="346.60" cy="373.60" r="2.25" fill="#cc0f30"/>
<circle cx="342.30" cy="375.70" r="2.25" fill="#cc0f30"/>
<line x1="344.90" y1="371.00" x2="344.90" y2="375.50" stroke="#2b2b2b" stroke-width="1.1"/>
<line x1="342.90" y1="371.00" x2="346.90" y2="371.00" stroke="#2b2b2b" stroke-width="1.1"/>
<line x1="342.90" y1="375.50" x2="346.90" y2="375.50" stroke="#2b2b2b" stroke-width="1.1"/>
<line x1="340.90" y1="373.30" x2="349.20" y2="373.30" stroke="#2b2b2b" stroke-width="1.1"/>
<line x1="359.10" y1="352.70" x2="359.10" y2="366.00" stroke="#2b2b2b" stroke-width="1.1"/>
<line x1="356.90" y1="352.70" x2="361.30" y2="352.70" stroke="#2b2b2b" stroke-width="1.1"/>
<line x1="356.90" y1="366.00" x2="361.30" y2="366.00" stroke="#2b2b2b" stroke-width="1.1"/>
<line x1="354.30" y1="359.50" x2="363.70" y2="359.50" stroke="#2b2b2b" stroke-width="1.1"/>
<rect x="354.30" y="352.90" width="4.4" height="4.4" fill="#1b4f8c"/>
<rect x="359.50" y="352.90" width="4.4" height="4.4" fill="#1b4f8c"/>
<rect x="356.90" y="364.90" width="4.4" height="4.4" fill="#1b4f8c"/>
<path d="M372.30,332.90L374.80,337.23L369.80,337.23Z" fill="#2aae4b"/>
<path d="M370.60,335.80L373.10,340.13L368.10,340.13Z" fill="#2aae4b"/>
<path d="M374.50,335.80L377.00,340.13L372.00,340.13Z" fill="#2aae4b"/>
<line x1="372.80" y1="335.00" x2="372.80" y2="338.00" stroke="#2b2b2b" stroke-width="1.1"/>
<line x1="370.80" y1="335.00" x2="374.80" y2="335.00" stroke="#2b2b2b" stroke-width="1.1"/>
<line x1="370.80" y1="338.00" x2="374.80" y2="338.00" stroke="#2b2b2b" stroke-width="1.1"/>
<line x1="368.90" y1="336.40" x2="377.50" y2="336.40" stroke="#2b2b2b" stroke-width="1.1"/>
<line x1="345.40" y1="321.60" x2="372.30" y2="321.60" stroke="#1c1c1c" stroke-width="1.4"/>
<path d="M354.85,317.60 L355.29,318.49 L356.28,318.64 L355.56,319.33 L355.73,320.31 L354.85,319.85 L353.97,320.31 L354.14,319.33 L353.42,318.64 L354.41,318.49Z" fill="#1e1e1e" stroke="#1e1e1e" stroke-width="0.5" stroke-linejoin="round"/>
<path d="M358.85,317.60 L359.29,318.49 L360.28,318.64 L359.56,319.33 L359.73,320.31 L358.85,319.85 L357.97,320.31 L358.14,319.33 L357.42,318.64 L358.41,318.49Z" fill="#1e1e1e" stroke="#1e1e1e" stroke-width="0.5" stroke-linejoin="round"/>
<path d="M362.85,317.60 L363.29,318.49 L364.28,318.64 L363.56,319.33 L363.73,320.31 L362.85,319.85 L361.97,320.31 L362.14,319.33 L361.42,318.64 L362.41,318.49Z" fill="#1e1e1e" stroke="#1e1e1e" stroke-width="0.5" stroke-linejoin="round"/>
<line x1="345.40" y1="327.60" x2="358.60" y2="327.60" stroke="#1c1c1c" stroke-width="1.4"/>
<path d="M352.00,323.60 L352.44,324.49 L353.43,324.64 L352.71,325.33 L352.88,326.31 L352.00,325.85 L351.12,326.31 L351.29,325.33 L350.57,324.64 L351.56,324.49Z" fill="#1e1e1e" stroke="#1e1e1e" stroke-width="0.5" stroke-linejoin="round"/>
<line x1="360.30" y1="327.60" x2="372.30" y2="327.60" stroke="#1c1c1c" stroke-width="1.4"/>
<path d="M364.30,323.60 L364.74,324.49 L365.73,324.64 L365.01,325.33 L365.18,326.31 L364.30,325.85 L363.42,326.31 L363.59,325.33 L362.87,324.64 L363.86,324.49Z" fill="#1e1e1e" stroke="#1e1e1e" stroke-width="0.5" stroke-linejoin="round"/>
<path d="M368.30,323.60 L368.74,324.49 L369.73,324.64 L369.01,325.33 L369.18,326.31 L368.30,325.85 L367.42,326.31 L367.59,325.33 L366.87,324.64 L367.86,324.49Z" fill="#1e1e1e" stroke="#1e1e1e" stroke-width="0.5" stroke-linejoin="round"/>
<text class="r" transform="translate(319.00,350.00) rotate(-90)" x="-28.65" y="0" font-size="8.1" textLength="57.30" lengthAdjust="spacingAndGlyphs" fill="#333">Max fluor (Au ×10<tspan font-size="5" dy="-3">−3</tspan><tspan dy="3">)</tspan></text>
<line x1="460.00" y1="312.50" x2="460.00" y2="384.25" stroke="#222" stroke-width="1.2"/>
<line x1="459.40" y1="383.75" x2="507.00" y2="383.75" stroke="#222" stroke-width="1.2"/>
<line x1="456.70" y1="312.50" x2="460.00" y2="312.50" stroke="#222" stroke-width="0.9"/>
<text x="449.75" y="315.10" font-size="8.6" fill="#333" textLength="4.45" lengthAdjust="spacingAndGlyphs" >8</text>
<line x1="456.70" y1="330.30" x2="460.00" y2="330.30" stroke="#222" stroke-width="0.9"/>
<text x="449.75" y="332.90" font-size="8.6" fill="#333" textLength="4.45" lengthAdjust="spacingAndGlyphs" >6</text>
<line x1="456.70" y1="348.10" x2="460.00" y2="348.10" stroke="#222" stroke-width="0.9"/>
<text x="449.75" y="350.70" font-size="8.6" fill="#333" textLength="4.45" lengthAdjust="spacingAndGlyphs" >4</text>
<line x1="456.70" y1="365.90" x2="460.00" y2="365.90" stroke="#222" stroke-width="0.9"/>
<text x="449.75" y="368.50" font-size="8.6" fill="#333" textLength="4.45" lengthAdjust="spacingAndGlyphs" >2</text>
<line x1="456.70" y1="383.75" x2="460.00" y2="383.75" stroke="#222" stroke-width="0.9"/>
<text x="449.75" y="386.35" font-size="8.6" fill="#333" textLength="4.45" lengthAdjust="spacingAndGlyphs" >0</text>
<line x1="473.75" y1="383.75" x2="473.75" y2="386.55" stroke="#222" stroke-width="0.9"/>
<line x1="493.75" y1="383.75" x2="493.75" y2="386.55" stroke="#222" stroke-width="0.9"/>
<circle cx="473.75" cy="326.25" r="2.25" fill="#cc0f30"/>
<circle cx="473.75" cy="355.50" r="2.25" fill="#cc0f30"/>
<circle cx="469.50" cy="362.00" r="2.25" fill="#cc0f30"/>
<circle cx="478.00" cy="364.50" r="2.25" fill="#cc0f30"/>
<circle cx="473.75" cy="372.00" r="2.25" fill="#cc0f30"/>
<line x1="473.75" y1="338.25" x2="473.75" y2="373.25" stroke="#2b2b2b" stroke-width="1.1"/>
<line x1="470.75" y1="338.25" x2="476.75" y2="338.25" stroke="#2b2b2b" stroke-width="1.1"/>
<line x1="470.75" y1="373.25" x2="476.75" y2="373.25" stroke="#2b2b2b" stroke-width="1.1"/>
<line x1="467.00" y1="355.75" x2="481.25" y2="355.75" stroke="#2b2b2b" stroke-width="1.1"/>
<path d="M489.50,310.65L492.00,314.98L487.00,314.98Z" fill="#2aae4b"/>
<path d="M498.25,315.40L500.75,319.73L495.75,319.73Z" fill="#2aae4b"/>
<path d="M490.00,323.65L492.50,327.98L487.50,327.98Z" fill="#2aae4b"/>
<path d="M498.25,327.40L500.75,331.73L495.75,331.73Z" fill="#2aae4b"/>
<path d="M494.50,345.40L497.00,349.73L492.00,349.73Z" fill="#2aae4b"/>
<line x1="494.50" y1="313.25" x2="494.50" y2="340.00" stroke="#2b2b2b" stroke-width="1.1"/>
<line x1="491.50" y1="313.25" x2="497.50" y2="313.25" stroke="#2b2b2b" stroke-width="1.1"/>
<line x1="491.50" y1="340.00" x2="497.50" y2="340.00" stroke="#2b2b2b" stroke-width="1.1"/>
<line x1="490.00" y1="326.75" x2="501.25" y2="326.75" stroke="#2b2b2b" stroke-width="1.1"/>
<line x1="473.25" y1="308.25" x2="493.25" y2="308.25" stroke="#1c1c1c" stroke-width="1.4"/>
<path d="M483.25,304.25 L483.69,305.14 L484.68,305.29 L483.96,305.98 L484.13,306.96 L483.25,306.50 L482.37,306.96 L482.54,305.98 L481.82,305.29 L482.81,305.14Z" fill="#1e1e1e" stroke="#1e1e1e" stroke-width="0.5" stroke-linejoin="round"/>
<text class="r" transform="translate(441.00,347.60) rotate(-90)" x="-27.95" y="0" font-size="8.1" textLength="55.90" lengthAdjust="spacingAndGlyphs" fill="#333">Max fluor (Au ×10<tspan font-size="5" dy="-3">3</tspan><tspan dy="3">)</tspan></text>
<line x1="66.70" y1="416.80" x2="66.70" y2="487.50" stroke="#222" stroke-width="1.2"/>
<line x1="66.10" y1="487.00" x2="113.50" y2="487.00" stroke="#222" stroke-width="1.2"/>
<line x1="63.40" y1="416.80" x2="66.70" y2="416.80" stroke="#222" stroke-width="0.9"/>
<text x="45.34" y="419.40" font-size="8.6" fill="#333" textLength="15.56" lengthAdjust="spacingAndGlyphs" >0.05</text>
<line x1="63.40" y1="430.84" x2="66.70" y2="430.84" stroke="#222" stroke-width="0.9"/>
<text x="45.34" y="433.44" font-size="8.6" fill="#333" textLength="15.56" lengthAdjust="spacingAndGlyphs" >0.04</text>
<line x1="63.40" y1="444.88" x2="66.70" y2="444.88" stroke="#222" stroke-width="0.9"/>
<text x="45.34" y="447.48" font-size="8.6" fill="#333" textLength="15.56" lengthAdjust="spacingAndGlyphs" >0.03</text>
<line x1="63.40" y1="458.92" x2="66.70" y2="458.92" stroke="#222" stroke-width="0.9"/>
<text x="45.34" y="461.52" font-size="8.6" fill="#333" textLength="15.56" lengthAdjust="spacingAndGlyphs" >0.02</text>
<line x1="63.40" y1="472.96" x2="66.70" y2="472.96" stroke="#222" stroke-width="0.9"/>
<text x="45.34" y="475.56" font-size="8.6" fill="#333" textLength="15.56" lengthAdjust="spacingAndGlyphs" >0.01</text>
<line x1="63.40" y1="487.00" x2="66.70" y2="487.00" stroke="#222" stroke-width="0.9"/>
<text x="45.34" y="489.60" font-size="8.6" fill="#333" textLength="15.56" lengthAdjust="spacingAndGlyphs" >0.00</text>
<line x1="76.30" y1="487.00" x2="76.30" y2="489.80" stroke="#222" stroke-width="0.9"/>
<line x1="90.30" y1="487.00" x2="90.30" y2="489.80" stroke="#222" stroke-width="0.9"/>
<line x1="104.00" y1="487.00" x2="104.00" y2="489.80" stroke="#222" stroke-width="0.9"/>
<circle cx="76.30" cy="449.50" r="2.25" fill="#cc0f30"/>
<circle cx="78.50" cy="457.30" r="2.25" fill="#cc0f30"/>
<circle cx="74.10" cy="459.40" r="2.25" fill="#cc0f30"/>
<line x1="76.30" y1="450.00" x2="76.30" y2="460.00" stroke="#2b2b2b" stroke-width="1.1"/>
<line x1="74.10" y1="450.00" x2="78.50" y2="450.00" stroke="#2b2b2b" stroke-width="1.1"/>
<line x1="74.10" y1="460.00" x2="78.50" y2="460.00" stroke="#2b2b2b" stroke-width="1.1"/>
<line x1="71.20" y1="455.30" x2="80.80" y2="455.30" stroke="#2b2b2b" stroke-width="1.1"/>
<line x1="90.50" y1="439.50" x2="90.50" y2="457.50" stroke="#2b2b2b" stroke-width="1.1"/>
<line x1="88.30" y1="439.50" x2="92.70" y2="439.50" stroke="#2b2b2b" stroke-width="1.1"/>
<line x1="88.30" y1="457.50" x2="92.70" y2="457.50" stroke="#2b2b2b" stroke-width="1.1"/>
<line x1="85.70" y1="448.20" x2="95.40" y2="448.20" stroke="#2b2b2b" stroke-width="1.1"/>
<rect x="85.30" y="440.50" width="4.4" height="4.4" fill="#1b4f8c"/>
<rect x="90.80" y="441.50" width="4.4" height="4.4" fill="#1b4f8c"/>
<rect x="88.30" y="455.80" width="4.4" height="4.4" fill="#1b4f8c"/>
<path d="M103.90,429.30L106.40,433.63L101.40,433.63Z" fill="#2aae4b"/>
<path d="M103.90,438.40L106.40,442.73L101.40,442.73Z" fill="#2aae4b"/>
<path d="M103.90,446.30L106.40,450.63L101.40,450.63Z" fill="#2aae4b"/>
<line x1="103.90" y1="431.90" x2="103.90" y2="448.90" stroke="#2b2b2b" stroke-width="1.1"/>
<line x1="101.70" y1="431.90" x2="106.10" y2="431.90" stroke="#2b2b2b" stroke-width="1.1"/>
<line x1="101.70" y1="448.90" x2="106.10" y2="448.90" stroke="#2b2b2b" stroke-width="1.1"/>
<line x1="99.00" y1="440.40" x2="109.00" y2="440.40" stroke="#2b2b2b" stroke-width="1.1"/>
<text class="r" transform="translate(30.60,451.20) rotate(-90)" x="-29.25" y="0" font-size="8.1" textLength="58.50" lengthAdjust="spacingAndGlyphs" fill="#333">Average rate of fibrin</text>
<text class="r" transform="translate(40.30,453.50) rotate(-90)" x="-33.50" y="0" font-size="8.1" textLength="67.00" lengthAdjust="spacingAndGlyphs" fill="#333">formation (AU ×10<tspan font-size="5" dy="-3">3</tspan><tspan dy="3">/s)</tspan></text>
<line x1="196.50" y1="416.60" x2="196.50" y2="487.50" stroke="#222" stroke-width="1.2"/>
<line x1="195.90" y1="487.00" x2="243.00" y2="487.00" stroke="#222" stroke-width="1.2"/>
<line x1="193.20" y1="416.60" x2="196.50" y2="416.60" stroke="#222" stroke-width="0.9"/>
<text x="175.14" y="419.20" font-size="8.6" fill="#333" textLength="15.56" lengthAdjust="spacingAndGlyphs" >0.05</text>
<line x1="193.20" y1="430.68" x2="196.50" y2="430.68" stroke="#222" stroke-width="0.9"/>
<text x="175.14" y="433.28" font-size="8.6" fill="#333" textLength="15.56" lengthAdjust="spacingAndGlyphs" >0.04</text>
<line x1="193.20" y1="444.76" x2="196.50" y2="444.76" stroke="#222" stroke-width="0.9"/>
<text x="175.14" y="447.36" font-size="8.6" fill="#333" textLength="15.56" lengthAdjust="spacingAndGlyphs" >0.03</text>
<line x1="193.20" y1="458.84" x2="196.50" y2="458.84" stroke="#222" stroke-width="0.9"/>
<text x="175.14" y="461.44" font-size="8.6" fill="#333" textLength="15.56" lengthAdjust="spacingAndGlyphs" >0.02</text>
<line x1="193.20" y1="472.92" x2="196.50" y2="472.92" stroke="#222" stroke-width="0.9"/>
<text x="175.14" y="475.52" font-size="8.6" fill="#333" textLength="15.56" lengthAdjust="spacingAndGlyphs" >0.01</text>
<line x1="193.20" y1="487.00" x2="196.50" y2="487.00" stroke="#222" stroke-width="0.9"/>
<text x="175.14" y="489.60" font-size="8.6" fill="#333" textLength="15.56" lengthAdjust="spacingAndGlyphs" >0.00</text>
<line x1="209.80" y1="487.00" x2="209.80" y2="489.80" stroke="#222" stroke-width="0.9"/>
<line x1="229.90" y1="487.00" x2="229.90" y2="489.80" stroke="#222" stroke-width="0.9"/>
<circle cx="209.60" cy="447.60" r="2.25" fill="#cc0f30"/>
<circle cx="205.40" cy="458.20" r="2.25" fill="#cc0f30"/>
<circle cx="214.00" cy="458.90" r="2.25" fill="#cc0f30"/>
<circle cx="209.60" cy="462.70" r="2.25" fill="#cc0f30"/>
<circle cx="209.60" cy="468.00" r="2.25" fill="#cc0f30"/>
<line x1="209.60" y1="451.30" x2="209.60" y2="466.30" stroke="#2b2b2b" stroke-width="1.1"/>
<line x1="206.80" y1="451.30" x2="212.40" y2="451.30" stroke="#2b2b2b" stroke-width="1.1"/>
<line x1="206.80" y1="466.30" x2="212.40" y2="466.30" stroke="#2b2b2b" stroke-width="1.1"/>
<line x1="203.60" y1="458.90" x2="216.30" y2="458.90" stroke="#2b2b2b" stroke-width="1.1"/>
<path d="M229.90,438.20L232.40,442.53L227.40,442.53Z" fill="#2aae4b"/>
<path d="M225.80,446.90L228.30,451.23L223.30,451.23Z" fill="#2aae4b"/>
<path d="M234.50,447.40L237.00,451.73L232.00,451.73Z" fill="#2aae4b"/>
<path d="M229.90,448.70L232.40,453.03L227.40,453.03Z" fill="#2aae4b"/>
<path d="M229.90,456.50L232.40,460.83L227.40,460.83Z" fill="#2aae4b"/>
<line x1="229.90" y1="442.70" x2="229.90" y2="455.80" stroke="#2b2b2b" stroke-width="1.1"/>
<line x1="227.10" y1="442.70" x2="232.70" y2="442.70" stroke="#2b2b2b" stroke-width="1.1"/>
<line x1="227.10" y1="455.80" x2="232.70" y2="455.80" stroke="#2b2b2b" stroke-width="1.1"/>
<line x1="223.60" y1="449.50" x2="237.20" y2="449.50" stroke="#2b2b2b" stroke-width="1.1"/>
<text class="r" transform="translate(159.20,451.10) rotate(-90)" x="-30.00" y="0" font-size="8.1" textLength="60.00" lengthAdjust="spacingAndGlyphs" fill="#333">Average rate of fibrin</text>
<text class="r" transform="translate(169.30,454.10) rotate(-90)" x="-33.80" y="0" font-size="8.1" textLength="67.60" lengthAdjust="spacingAndGlyphs" fill="#333">formation (AU ×10<tspan font-size="5" dy="-3">3</tspan><tspan dy="3">/s)</tspan></text>
<line x1="334.50" y1="417.60" x2="334.50" y2="487.60" stroke="#222" stroke-width="1.2"/>
<line x1="333.90" y1="487.10" x2="381.50" y2="487.10" stroke="#222" stroke-width="1.2"/>
<line x1="331.20" y1="417.60" x2="334.50" y2="417.60" stroke="#222" stroke-width="0.9"/>
<text x="313.14" y="420.20" font-size="8.6" fill="#333" textLength="15.56" lengthAdjust="spacingAndGlyphs" >0.03</text>
<line x1="331.20" y1="440.77" x2="334.50" y2="440.77" stroke="#222" stroke-width="0.9"/>
<text x="313.14" y="443.37" font-size="8.6" fill="#333" textLength="15.56" lengthAdjust="spacingAndGlyphs" >0.02</text>
<line x1="331.20" y1="463.93" x2="334.50" y2="463.93" stroke="#222" stroke-width="0.9"/>
<text x="313.14" y="466.53" font-size="8.6" fill="#333" textLength="15.56" lengthAdjust="spacingAndGlyphs" >0.01</text>
<line x1="331.20" y1="487.10" x2="334.50" y2="487.10" stroke="#222" stroke-width="0.9"/>
<text x="313.14" y="489.70" font-size="8.6" fill="#333" textLength="15.56" lengthAdjust="spacingAndGlyphs" >0.00</text>
<line x1="344.50" y1="487.10" x2="344.50" y2="489.90" stroke="#222" stroke-width="0.9"/>
<line x1="358.30" y1="487.10" x2="358.30" y2="489.90" stroke="#222" stroke-width="0.9"/>
<line x1="371.80" y1="487.10" x2="371.80" y2="489.90" stroke="#222" stroke-width="0.9"/>
<circle cx="342.20" cy="453.70" r="2.25" fill="#cc0f30"/>
<circle cx="346.40" cy="456.30" r="2.25" fill="#cc0f30"/>
<circle cx="342.20" cy="459.70" r="2.25" fill="#cc0f30"/>
<line x1="344.20" y1="454.50" x2="344.20" y2="458.50" stroke="#2b2b2b" stroke-width="1.1"/>
<line x1="342.20" y1="454.50" x2="346.20" y2="454.50" stroke="#2b2b2b" stroke-width="1.1"/>
<line x1="342.20" y1="458.50" x2="346.20" y2="458.50" stroke="#2b2b2b" stroke-width="1.1"/>
<line x1="340.10" y1="456.30" x2="348.20" y2="456.30" stroke="#2b2b2b" stroke-width="1.1"/>
<line x1="358.30" y1="446.50" x2="358.30" y2="453.70" stroke="#2b2b2b" stroke-width="1.1"/>
<line x1="356.10" y1="446.50" x2="360.50" y2="446.50" stroke="#2b2b2b" stroke-width="1.1"/>
<line x1="356.10" y1="453.70" x2="360.50" y2="453.70" stroke="#2b2b2b" stroke-width="1.1"/>
<line x1="353.80" y1="448.90" x2="362.70" y2="448.90" stroke="#2b2b2b" stroke-width="1.1"/>
<rect x="356.20" y="440.90" width="4.4" height="4.4" fill="#1b4f8c"/>
<rect x="358.00" y="448.10" width="4.4" height="4.4" fill="#1b4f8c"/>
<rect x="353.70" y="450.30" width="4.4" height="4.4" fill="#1b4f8c"/>
<path d="M371.30,437.80L373.80,442.13L368.80,442.13Z" fill="#2aae4b"/>
<path d="M371.30,445.10L373.80,449.43L368.80,449.43Z" fill="#2aae4b"/>
<path d="M372.50,440.40L375.00,444.73L370.00,444.73Z" fill="#2aae4b"/>
<line x1="371.30" y1="439.20" x2="371.30" y2="446.00" stroke="#2b2b2b" stroke-width="1.1"/>
<line x1="368.90" y1="439.20" x2="373.70" y2="439.20" stroke="#2b2b2b" stroke-width="1.1"/>
<line x1="368.90" y1="446.00" x2="373.70" y2="446.00" stroke="#2b2b2b" stroke-width="1.1"/>
<line x1="367.90" y1="442.60" x2="376.10" y2="442.60" stroke="#2b2b2b" stroke-width="1.1"/>
<line x1="344.70" y1="431.40" x2="371.70" y2="431.40" stroke="#1c1c1c" stroke-width="1.4"/>
<path d="M358.20,427.40 L358.64,428.29 L359.63,428.44 L358.91,429.13 L359.08,430.11 L358.20,429.65 L357.32,430.11 L357.49,429.13 L356.77,428.44 L357.76,428.29Z" fill="#1e1e1e" stroke="#1e1e1e" stroke-width="0.5" stroke-linejoin="round"/>
<text class="r" transform="translate(298.80,451.00) rotate(-90)" x="-29.50" y="0" font-size="8.1" textLength="59.00" lengthAdjust="spacingAndGlyphs" fill="#333">Average rate of fibrin</text>
<text class="r" transform="translate(308.50,453.60) rotate(-90)" x="-33.35" y="0" font-size="8.1" textLength="66.70" lengthAdjust="spacingAndGlyphs" fill="#333">formation (AU ×10<tspan font-size="5" dy="-3">3</tspan><tspan dy="3">/s)</tspan></text>
<line x1="460.00" y1="418.00" x2="460.00" y2="487.50" stroke="#222" stroke-width="1.2"/>
<line x1="459.40" y1="487.00" x2="506.25" y2="487.00" stroke="#222" stroke-width="1.2"/>
<line x1="456.70" y1="418.00" x2="460.00" y2="418.00" stroke="#222" stroke-width="0.9"/>
<text x="438.64" y="420.60" font-size="8.6" fill="#333" textLength="15.56" lengthAdjust="spacingAndGlyphs" >0.03</text>
<line x1="456.70" y1="441.00" x2="460.00" y2="441.00" stroke="#222" stroke-width="0.9"/>
<text x="438.64" y="443.60" font-size="8.6" fill="#333" textLength="15.56" lengthAdjust="spacingAndGlyphs" >0.02</text>
<line x1="456.70" y1="464.00" x2="460.00" y2="464.00" stroke="#222" stroke-width="0.9"/>
<text x="438.64" y="466.60" font-size="8.6" fill="#333" textLength="15.56" lengthAdjust="spacingAndGlyphs" >0.01</text>
<line x1="456.70" y1="487.00" x2="460.00" y2="487.00" stroke="#222" stroke-width="0.9"/>
<text x="438.64" y="489.60" font-size="8.6" fill="#333" textLength="15.56" lengthAdjust="spacingAndGlyphs" >0.00</text>
<line x1="473.25" y1="487.00" x2="473.25" y2="489.80" stroke="#222" stroke-width="0.9"/>
<line x1="493.25" y1="487.00" x2="493.25" y2="489.80" stroke="#222" stroke-width="0.9"/>
<circle cx="473.25" cy="453.75" r="2.25" fill="#cc0f30"/>
<circle cx="468.25" cy="473.25" r="2.25" fill="#cc0f30"/>
<circle cx="477.00" cy="477.00" r="2.25" fill="#cc0f30"/>
<circle cx="469.50" cy="478.75" r="2.25" fill="#cc0f30"/>
<circle cx="473.25" cy="476.00" r="2.25" fill="#cc0f30"/>
<line x1="473.25" y1="461.25" x2="473.25" y2="481.75" stroke="#2b2b2b" stroke-width="1.1"/>
<line x1="470.25" y1="461.25" x2="476.25" y2="461.25" stroke="#2b2b2b" stroke-width="1.1"/>
<line x1="470.25" y1="481.75" x2="476.25" y2="481.75" stroke="#2b2b2b" stroke-width="1.1"/>
<line x1="466.25" y1="471.25" x2="480.00" y2="471.25" stroke="#2b2b2b" stroke-width="1.1"/>
<path d="M493.00,423.65L495.50,427.98L490.50,427.98Z" fill="#2aae4b"/>
<path d="M493.00,434.90L495.50,439.23L490.50,439.23Z" fill="#2aae4b"/>
<path d="M493.00,444.40L495.50,448.73L490.50,448.73Z" fill="#2aae4b"/>
<path d="M493.00,449.90L495.50,454.23L490.50,454.23Z" fill="#2aae4b"/>
<path d="M493.00,455.40L495.50,459.73L490.50,459.73Z" fill="#2aae4b"/>
<line x1="493.00" y1="430.00" x2="493.00" y2="456.25" stroke="#2b2b2b" stroke-width="1.1"/>
<line x1="490.00" y1="430.00" x2="496.00" y2="430.00" stroke="#2b2b2b" stroke-width="1.1"/>
<line x1="490.00" y1="456.25" x2="496.00" y2="456.25" stroke="#2b2b2b" stroke-width="1.1"/>
<line x1="487.00" y1="443.00" x2="500.00" y2="443.00" stroke="#2b2b2b" stroke-width="1.1"/>
<line x1="473.25" y1="418.75" x2="493.25" y2="418.75" stroke="#1c1c1c" stroke-width="1.4"/>
<path d="M481.25,414.75 L481.69,415.64 L482.68,415.79 L481.96,416.48 L482.13,417.46 L481.25,417.00 L480.37,417.46 L480.54,416.48 L479.82,415.79 L480.81,415.64Z" fill="#1e1e1e" stroke="#1e1e1e" stroke-width="0.5" stroke-linejoin="round"/>
<path d="M485.25,414.75 L485.69,415.64 L486.68,415.79 L485.96,416.48 L486.13,417.46 L485.25,417.00 L484.37,417.46 L484.54,416.48 L483.82,415.79 L484.81,415.64Z" fill="#1e1e1e" stroke="#1e1e1e" stroke-width="0.5" stroke-linejoin="round"/>
<text class="r" transform="translate(423.00,451.10) rotate(-90)" x="-30.00" y="0" font-size="8.1" textLength="60.00" lengthAdjust="spacingAndGlyphs" fill="#333">Average rate of fibrin</text>
<text class="r" transform="translate(432.60,454.10) rotate(-90)" x="-33.80" y="0" font-size="8.1" textLength="67.60" lengthAdjust="spacingAndGlyphs" fill="#333">formation (AU ×10<tspan font-size="5" dy="-3">3</tspan><tspan dy="3">/s)</tspan></text>
</g>
</svg>
</body></html>
